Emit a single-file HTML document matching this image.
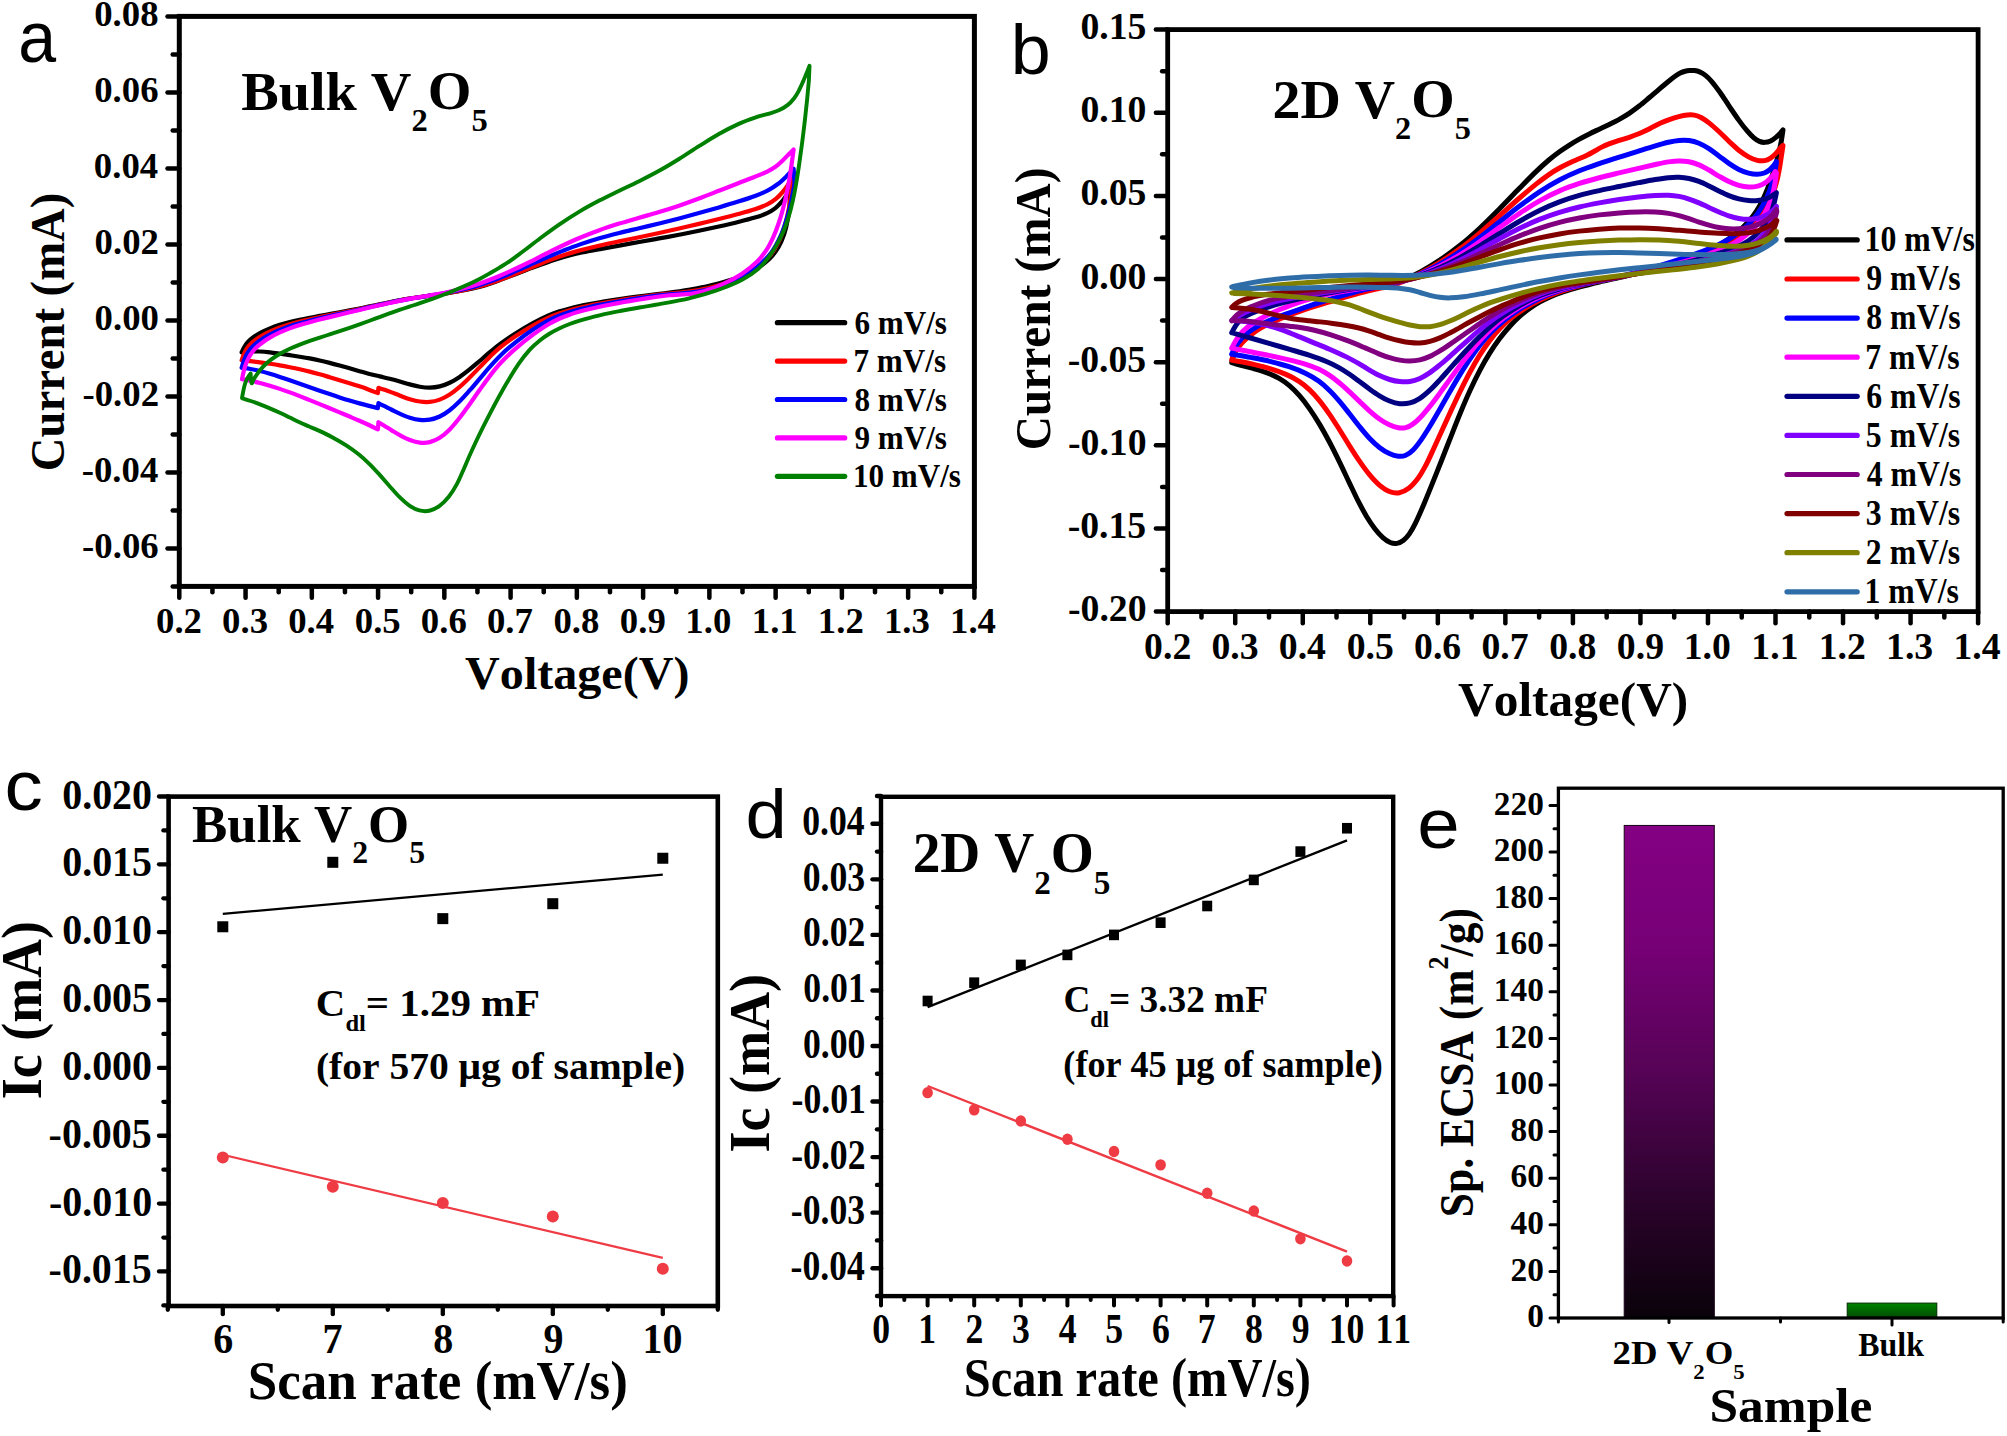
<!DOCTYPE html>
<html lang="en"><head><meta charset="utf-8"><title>Figure</title>
<style>html,body{margin:0;padding:0;background:#fff}svg{display:block}</style>
</head><body>
<svg width="2007" height="1436" viewBox="0 0 2007 1436" style="font-kerning:none">
<rect width="2007" height="1436" fill="#fff"/>
<g fill="none" stroke-linejoin="round" stroke-linecap="round">
<path d="M241.65 352.28C242.09 351.4 243.25 348.73 244.29 347.02C245.33 345.31 246.38 343.64 247.88 342.01C249.38 340.37 251.13 338.78 253.28 337.21C255.44 335.64 258.05 334.05 260.83 332.57C263.61 331.09 266.82 329.62 269.99 328.33C273.15 327.05 276.52 325.88 279.83 324.83C283.13 323.79 286.47 322.91 289.79 322.08C293.11 321.24 296.43 320.52 299.76 319.8C303.08 319.09 306.4 318.44 309.72 317.79C313.04 317.14 316.36 316.54 319.69 315.93C323.01 315.32 326.33 314.74 329.65 314.13C332.97 313.53 336.29 312.94 339.62 312.32C342.94 311.69 346.26 311.06 349.58 310.41C352.9 309.76 356.22 309.1 359.55 308.44C362.87 307.77 366.19 307.11 369.51 306.42C372.83 305.74 376.16 305.04 379.48 304.34C382.8 303.64 386.12 302.9 389.44 302.22C392.76 301.53 396.09 300.85 399.41 300.23C402.73 299.62 405.95 299.07 409.37 298.53C412.8 298 416.02 297.56 419.96 297.01C423.9 296.46 428.15 295.94 433.04 295.25C437.93 294.55 443.84 293.72 449.29 292.84C454.73 291.95 460.73 290.94 465.7 289.95C470.67 288.96 475.07 287.97 479.1 286.92C483.14 285.87 486.44 284.8 489.91 283.66C493.38 282.52 496.6 281.31 499.93 280.09C503.26 278.88 506.57 277.61 509.9 276.35C513.22 275.08 516.54 273.78 519.86 272.49C523.18 271.2 526.5 269.89 529.83 268.63C533.15 267.38 536.47 266.13 539.79 264.94C543.11 263.74 546.43 262.57 549.76 261.45C553.08 260.32 556.3 259.22 559.72 258.18C563.14 257.13 566.36 256.15 570.29 255.17C574.22 254.18 578.35 253.28 583.3 252.27C588.25 251.25 594.02 250.22 600.01 249.1C606 247.99 612.73 246.78 619.25 245.59C625.78 244.41 632.52 243.18 639.16 241.99C645.8 240.8 652.45 239.64 659.09 238.43C665.74 237.22 672.38 236.02 679.02 234.74C685.67 233.46 692.31 232.14 698.95 230.75C705.6 229.37 712.34 227.91 718.88 226.44C725.42 224.98 732.19 223.45 738.19 221.96C744.19 220.48 750.06 219.02 754.88 217.54C759.71 216.06 763.73 214.67 767.15 213.09C770.58 211.52 773.08 209.89 775.45 208.08C777.81 206.27 779.64 204.23 781.37 202.24C783.09 200.26 784.48 198.13 785.78 196.16C787.09 194.19 788.63 191.36 789.2 190.4L789.8 203.36C789.47 205.97 788.76 213.99 787.84 219.05C786.92 224.12 785.84 229.12 784.3 233.75C782.76 238.39 781 242.72 778.58 246.86C776.17 250.99 773.54 254.87 769.79 258.55C766.04 262.23 761.4 265.82 756.1 268.96C750.8 272.09 744.15 274.98 738 277.36C731.85 279.75 725.05 281.63 719.22 283.25C713.38 284.87 707.84 286.02 702.98 287.08C698.13 288.15 694.01 288.91 690.08 289.62C686.15 290.33 682.84 290.85 679.39 291.36C675.94 291.86 672.69 292.26 669.35 292.67C666.02 293.09 662.7 293.46 659.37 293.87C656.05 294.27 652.73 294.67 649.41 295.08C646.09 295.49 642.76 295.92 639.44 296.35C636.12 296.78 632.8 297.22 629.48 297.68C626.16 298.14 622.83 298.62 619.51 299.12C616.19 299.61 612.87 300.13 609.55 300.67C606.22 301.21 602.9 301.76 599.58 302.34C596.26 302.92 592.94 303.51 589.62 304.14C586.29 304.78 582.97 305.43 579.65 306.16C576.33 306.89 573.01 307.65 569.69 308.5C566.36 309.35 563.25 310.12 559.72 311.28C556.19 312.43 552.87 313.5 548.48 315.43C544.1 317.36 538.87 319.88 533.43 322.85C527.99 325.81 521.28 329.77 515.84 333.21C510.39 336.66 505.17 340.32 500.78 343.53C496.4 346.74 493.08 349.57 489.55 352.48C486.01 355.4 482.9 358.2 479.58 361.02C476.26 363.83 472.94 366.75 469.62 369.39C466.29 372.04 462.97 374.67 459.65 376.9C456.33 379.12 453.01 381.17 449.69 382.75C446.36 384.34 443.04 385.59 439.72 386.4C436.4 387.21 433.08 387.56 429.76 387.61C426.43 387.66 423.11 387.24 419.79 386.71C416.47 386.17 413.15 385.27 409.83 384.4C406.5 383.54 403.18 382.46 399.83 381.52C396.49 380.58 393.12 379.63 389.75 378.77C386.38 377.91 382.99 377.16 379.62 376.35C376.25 375.55 372.89 374.78 369.54 373.92C366.19 373.05 362.87 372.12 359.55 371.19C356.22 370.26 352.9 369.27 349.58 368.33C346.26 367.39 342.94 366.44 339.62 365.54C336.29 364.63 332.97 363.73 329.65 362.88C326.33 362.04 323.01 361.22 319.69 360.48C316.36 359.74 313.04 359.06 309.72 358.43C306.4 357.8 303.08 357.26 299.76 356.72C296.43 356.19 293.11 355.71 289.79 355.2C286.47 354.7 283.15 354.18 279.83 353.7C276.5 353.22 273.16 352.69 269.86 352.33C266.56 351.96 263.22 351.62 260 351.49C256.78 351.36 253.62 351.4 250.56 351.53C247.51 351.67 243.14 352.16 241.65 352.28" stroke="#000000" stroke-width="4.2"/>
<path d="M241.65 360.25C242.01 359.25 242.98 356.14 243.81 354.24C244.64 352.35 245.52 350.55 246.62 348.89C247.71 347.23 248.96 345.75 250.4 344.28C251.85 342.8 253.39 341.47 255.29 340.04C257.18 338.62 259.28 337.19 261.76 335.75C264.24 334.3 267.16 332.75 270.17 331.36C273.18 329.96 276.56 328.57 279.83 327.37C283.1 326.17 286.47 325.12 289.79 324.15C293.11 323.18 296.43 322.35 299.76 321.54C303.08 320.72 306.4 319.99 309.72 319.26C313.04 318.53 316.36 317.84 319.69 317.15C323.01 316.46 326.33 315.79 329.65 315.12C332.97 314.44 336.29 313.78 339.62 313.11C342.94 312.43 346.26 311.75 349.58 311.05C352.9 310.35 356.22 309.64 359.55 308.93C362.87 308.21 366.19 307.49 369.51 306.77C372.83 306.05 376.16 305.33 379.48 304.62C382.8 303.9 386.12 303.17 389.44 302.48C392.76 301.79 396.09 301.1 399.41 300.46C402.73 299.83 405.95 299.25 409.37 298.69C412.8 298.13 416.02 297.67 419.96 297.09C423.9 296.52 428.15 295.98 433.04 295.25C437.93 294.52 443.84 293.65 449.29 292.72C454.73 291.79 460.73 290.71 465.7 289.68C470.67 288.66 475.07 287.63 479.1 286.58C483.14 285.52 486.44 284.46 489.91 283.33C493.38 282.2 496.6 281 499.93 279.78C503.26 278.56 506.57 277.3 509.9 276.02C513.22 274.73 516.54 273.42 519.86 272.1C523.18 270.77 526.5 269.42 529.83 268.07C533.15 266.73 536.47 265.36 539.79 264.03C543.11 262.7 546.43 261.35 549.76 260.09C553.08 258.83 556.3 257.62 559.72 256.46C563.14 255.29 566.36 254.26 570.29 253.11C574.22 251.95 578.35 250.81 583.3 249.54C588.25 248.26 594.02 246.84 600.01 245.47C606 244.09 612.73 242.67 619.25 241.29C625.78 239.92 632.52 238.61 639.16 237.23C645.8 235.85 652.45 234.46 659.09 233.01C665.74 231.56 672.38 230.05 679.02 228.53C685.67 227 692.31 225.45 698.95 223.87C705.6 222.28 712.34 220.65 718.88 219.01C725.42 217.37 732.19 215.66 738.19 214.03C744.19 212.39 750.05 210.81 754.88 209.22C759.72 207.62 763.72 206.16 767.21 204.45C770.71 202.73 773.3 200.94 775.84 198.91C778.39 196.88 780.51 194.54 782.5 192.25C784.48 189.97 786.2 187.5 787.75 185.2C789.3 182.9 791.12 179.57 791.79 178.45L791.39 191.4C790.94 194.36 789.84 203.36 788.71 209.15C787.59 214.94 786.33 220.7 784.65 226.15C782.97 231.6 781.17 236.85 778.65 241.85C776.12 246.85 773.44 251.64 769.52 256.15C765.59 260.65 760.59 265.08 755.09 268.87C749.59 272.66 742.65 276.14 736.51 278.9C730.36 281.65 723.85 283.69 718.22 285.4C712.59 287.12 707.42 288.19 702.73 289.18C698.04 290.17 693.97 290.78 690.08 291.34C686.19 291.89 682.84 292.16 679.39 292.52C675.94 292.88 672.69 293.12 669.35 293.47C666.02 293.82 662.7 294.2 659.37 294.59C656.05 294.99 652.73 295.42 649.41 295.86C646.09 296.29 642.76 296.74 639.44 297.21C636.12 297.68 632.8 298.16 629.48 298.65C626.16 299.15 622.83 299.67 619.51 300.21C616.19 300.74 612.87 301.3 609.55 301.87C606.22 302.45 602.9 303.05 599.58 303.67C596.26 304.29 592.94 304.92 589.62 305.61C586.29 306.29 582.97 306.98 579.65 307.76C576.33 308.54 573.01 309.35 569.69 310.27C566.36 311.19 563.25 312.05 559.72 313.29C556.19 314.53 552.87 315.71 548.48 317.72C544.1 319.74 538.87 322.32 533.43 325.36C527.99 328.41 521.28 332.39 515.84 335.99C510.39 339.59 505.17 343.43 500.78 346.97C496.4 350.5 493.08 353.79 489.55 357.19C486.01 360.59 482.9 363.98 479.58 367.37C476.26 370.76 472.94 374.27 469.62 377.52C466.29 380.77 462.97 384.03 459.65 386.86C456.33 389.69 453.01 392.37 449.69 394.49C446.36 396.62 443.04 398.39 439.72 399.62C436.4 400.85 433.08 401.57 429.76 401.89C426.43 402.2 423.11 401.98 419.79 401.52C416.47 401.06 413.1 400.12 409.83 399.15C406.56 398.17 403.2 396.83 400.17 395.7C397.15 394.56 394.26 393.33 391.67 392.34C389.09 391.36 386.87 390.55 384.66 389.79C382.46 389.03 379.47 388.13 378.44 387.8L377.88 393.14C376.39 392.56 371.99 390.81 368.91 389.68C365.84 388.55 362.67 387.43 359.45 386.35C356.22 385.27 352.89 384.23 349.58 383.21C346.28 382.18 342.94 381.19 339.62 380.18C336.29 379.18 332.97 378.18 329.65 377.19C326.33 376.21 323.01 375.2 319.69 374.27C316.36 373.33 313.04 372.42 309.72 371.59C306.4 370.76 303.08 370 299.76 369.27C296.43 368.53 293.11 367.85 289.79 367.19C286.47 366.53 283.15 365.89 279.83 365.31C276.5 364.73 273.16 364.21 269.86 363.71C266.56 363.22 263.22 362.76 260 362.34C256.78 361.92 253.62 361.54 250.56 361.19C247.51 360.84 243.14 360.41 241.65 360.25" stroke="#ff0000" stroke-width="4.2"/>
<path d="M241.65 367.73C242.01 366.59 242.98 363.08 243.81 360.88C244.64 358.68 245.52 356.51 246.62 354.52C247.71 352.54 248.96 350.72 250.4 348.98C251.85 347.24 253.39 345.69 255.29 344.06C257.18 342.44 259.28 340.85 261.76 339.23C264.24 337.61 267.16 335.9 270.17 334.34C273.18 332.78 276.56 331.23 279.83 329.87C283.1 328.52 286.47 327.32 289.79 326.22C293.11 325.11 296.43 324.17 299.76 323.25C303.08 322.33 306.4 321.51 309.72 320.69C313.04 319.88 316.36 319.11 319.69 318.35C323.01 317.59 326.33 316.85 329.65 316.11C332.97 315.37 336.29 314.65 339.62 313.91C342.94 313.17 346.26 312.43 349.58 311.69C352.9 310.94 356.22 310.18 359.55 309.43C362.87 308.68 366.19 307.92 369.51 307.17C372.83 306.42 376.16 305.67 379.48 304.92C382.8 304.18 386.12 303.43 389.44 302.71C392.76 302 396.09 301.29 399.41 300.64C402.73 299.99 405.95 299.4 409.37 298.81C412.8 298.23 416.02 297.76 419.96 297.14C423.9 296.53 428.15 295.95 433.04 295.14C437.93 294.32 443.84 293.33 449.29 292.27C454.73 291.21 460.73 289.94 465.7 288.75C470.67 287.57 475.07 286.36 479.1 285.17C483.14 283.97 486.44 282.81 489.91 281.59C493.38 280.36 496.6 279.1 499.93 277.79C503.26 276.48 506.57 275.12 509.9 273.72C513.22 272.32 516.54 270.86 519.86 269.4C523.18 267.94 526.5 266.43 529.83 264.95C533.15 263.46 536.37 262 539.79 260.49C543.21 258.99 546.43 257.56 550.36 255.91C554.29 254.26 558.42 252.51 563.37 250.59C568.32 248.67 574.09 246.43 580.08 244.37C586.07 242.31 592.79 240.12 599.32 238.21C605.84 236.31 612.59 234.6 619.23 232.93C625.87 231.27 632.52 229.81 639.16 228.24C645.81 226.66 652.45 225.12 659.09 223.48C665.74 221.84 672.38 220.16 679.02 218.42C685.67 216.69 692.31 214.91 698.95 213.08C705.6 211.25 712.34 209.35 718.88 207.44C725.42 205.53 732.17 203.53 738.19 201.62C744.21 199.71 750.05 197.85 755.01 195.98C759.97 194.1 764.15 192.36 767.96 190.37C771.77 188.38 774.83 186.31 777.86 184.02C780.9 181.73 783.52 179.19 786.15 176.64C788.77 174.1 792.38 170.07 793.62 168.76L794.58 183.43C794.02 186.41 792.52 195.39 791.22 201.3C789.91 207.22 788.53 213.15 786.77 218.93C785.01 224.71 783.2 230.45 780.65 235.99C778.11 241.54 775.46 247.04 771.51 252.22C767.56 257.41 762.57 262.64 756.96 267.1C751.36 271.56 744.23 275.76 737.88 279.01C731.52 282.25 724.68 284.64 718.84 286.57C713.01 288.51 707.65 289.61 702.86 290.61C698.06 291.61 693.99 292.12 690.08 292.6C686.17 293.08 682.84 293.22 679.39 293.49C675.94 293.77 672.69 293.94 669.35 294.26C666.02 294.57 662.7 294.96 659.37 295.37C656.05 295.77 652.73 296.23 649.41 296.69C646.09 297.14 642.76 297.62 639.44 298.11C636.12 298.61 632.8 299.12 629.48 299.65C626.16 300.18 622.83 300.73 619.51 301.3C616.19 301.86 612.87 302.44 609.55 303.04C606.22 303.64 602.9 304.25 599.58 304.9C596.26 305.55 592.94 306.22 589.62 306.95C586.29 307.68 582.97 308.44 579.65 309.29C576.33 310.14 573.01 311.03 569.69 312.05C566.36 313.06 563.25 313.98 559.72 315.36C556.19 316.75 552.87 318.05 548.48 320.38C544.1 322.72 538.87 325.74 533.43 329.35C527.99 332.97 521.28 337.76 515.84 342.06C510.39 346.36 505.17 350.98 500.78 355.16C496.4 359.33 493.08 363.17 489.55 367.12C486.01 371.07 482.9 374.94 479.58 378.83C476.26 382.72 472.94 386.73 469.62 390.48C466.29 394.22 462.97 397.99 459.65 401.28C456.33 404.58 453.01 407.71 449.69 410.25C446.36 412.79 443.04 414.94 439.72 416.51C436.4 418.08 433.08 419.12 429.76 419.69C426.43 420.26 423.11 420.26 419.79 419.94C416.47 419.61 413.1 418.73 409.83 417.72C406.56 416.72 403.2 415.22 400.17 413.89C397.15 412.57 394.26 411.03 391.67 409.75C389.09 408.48 386.87 407.32 384.66 406.23C382.46 405.15 379.47 403.74 378.44 403.24L377.88 408.09C376.39 407.72 371.99 406.66 368.91 405.88C365.84 405.09 362.67 404.27 359.45 403.38C356.22 402.5 352.89 401.54 349.58 400.55C346.28 399.56 342.94 398.51 339.62 397.44C336.29 396.36 332.97 395.24 329.65 394.1C326.33 392.97 323.01 391.81 319.69 390.65C316.36 389.49 313.04 388.32 309.72 387.16C306.4 386 303.08 384.83 299.76 383.67C296.43 382.51 293.11 381.35 289.79 380.22C286.47 379.08 283.15 377.96 279.83 376.88C276.5 375.81 273.16 374.75 269.86 373.77C266.56 372.79 263.22 371.82 260 371.03C256.78 370.23 253.62 369.55 250.56 369C247.51 368.45 243.14 367.94 241.65 367.73" stroke="#0000ff" stroke-width="4.2"/>
<path d="M242.01 379.19C242.28 377.95 243.03 374.2 243.64 371.78C244.25 369.35 244.88 366.92 245.68 364.64C246.49 362.37 247.42 360.14 248.48 358.11C249.53 356.07 250.7 354.2 252 352.44C253.3 350.68 254.59 349.17 256.28 347.55C257.97 345.92 259.81 344.38 262.14 342.69C264.46 341.01 267.29 339.14 270.23 337.44C273.18 335.74 276.57 333.97 279.83 332.46C283.09 330.96 286.47 329.62 289.79 328.39C293.11 327.16 296.43 326.11 299.76 325.08C303.08 324.05 306.4 323.12 309.72 322.2C313.04 321.28 316.36 320.43 319.69 319.58C323.01 318.74 326.33 317.93 329.65 317.12C332.97 316.31 336.29 315.51 339.62 314.71C342.94 313.91 346.26 313.12 349.58 312.32C352.9 311.53 356.22 310.73 359.55 309.94C362.87 309.15 366.19 308.36 369.51 307.58C372.83 306.8 376.16 306.02 379.48 305.25C382.8 304.49 386.12 303.72 389.44 302.98C392.76 302.24 396.09 301.51 399.41 300.83C402.73 300.15 405.95 299.53 409.37 298.92C412.8 298.3 416.02 297.81 419.96 297.14C423.9 296.48 428.15 295.84 433.04 294.93C437.93 294.02 443.84 292.9 449.29 291.7C454.73 290.51 460.73 289.07 465.7 287.75C470.67 286.42 475.07 285.07 479.1 283.75C483.14 282.43 486.44 281.16 489.91 279.82C493.38 278.48 496.6 277.13 499.93 275.72C503.26 274.31 506.57 272.86 509.9 271.36C513.22 269.87 516.54 268.33 519.86 266.75C523.18 265.18 526.51 263.56 529.83 261.93C533.14 260.29 536.36 258.67 539.77 256.94C543.18 255.22 546.38 253.53 550.29 251.58C554.21 249.63 558.31 247.52 563.27 245.22C568.22 242.92 574.01 240.27 580.01 237.78C586.02 235.28 592.77 232.62 599.3 230.26C605.84 227.89 612.59 225.69 619.23 223.6C625.88 221.52 632.52 219.69 639.16 217.76C645.81 215.83 652.45 214.03 659.09 212.02C665.74 210.01 672.38 207.94 679.02 205.69C685.67 203.44 692.31 201.02 698.95 198.53C705.6 196.05 712.34 193.34 718.88 190.78C725.42 188.23 732.19 185.54 738.19 183.2C744.19 180.86 750.05 178.69 754.88 176.74C759.72 174.8 763.73 173.26 767.21 171.55C770.7 169.84 773.27 168.28 775.81 166.47C778.35 164.65 780.4 162.61 782.47 160.66C784.55 158.71 786.41 156.63 788.27 154.76C790.12 152.89 792.73 150.32 793.62 149.43L792.23 159.79C791.95 161.8 791.2 167.63 790.55 171.87C789.89 176.12 789.17 180.73 788.32 185.26C787.47 189.8 786.49 194.6 785.45 199.09C784.41 203.59 783.29 207.96 782.08 212.23C780.86 216.51 779.6 220.61 778.14 224.75C776.68 228.89 775.18 232.96 773.29 237.06C771.41 241.16 769.52 245.25 766.84 249.34C764.16 253.43 761.35 257.53 757.22 261.59C753.1 265.65 747.91 269.9 742.1 273.69C736.3 277.49 728.76 281.45 722.38 284.38C716 287.31 709.2 289.67 703.82 291.26C698.44 292.86 694.15 293.39 690.08 293.95C686.01 294.5 682.84 294.39 679.39 294.61C675.94 294.83 672.69 294.97 669.35 295.28C666.02 295.59 662.7 296.02 659.37 296.46C656.05 296.9 652.73 297.41 649.41 297.91C646.09 298.41 642.76 298.92 639.44 299.45C636.12 299.98 632.8 300.53 629.48 301.1C626.16 301.66 622.83 302.24 619.51 302.84C616.19 303.44 612.87 304.05 609.55 304.7C606.22 305.34 602.9 306 599.58 306.71C596.26 307.42 592.94 308.15 589.62 308.95C586.29 309.75 582.97 310.59 579.65 311.53C576.33 312.48 573.01 313.48 569.69 314.64C566.36 315.8 563.25 316.88 559.72 318.49C556.19 320.1 552.87 321.66 548.48 324.31C544.1 326.95 538.87 330.36 533.43 334.37C527.99 338.37 521.28 343.61 515.84 348.35C510.39 353.09 505.17 358.14 500.78 362.81C496.4 367.47 493.08 371.8 489.55 376.34C486.01 380.88 482.9 385.41 479.58 390.04C476.26 394.67 472.94 399.53 469.62 404.15C466.29 408.76 462.97 413.51 459.65 417.72C456.33 421.93 453.01 426.06 449.69 429.4C446.36 432.74 443.04 435.66 439.72 437.78C436.4 439.9 433.08 441.31 429.76 442.11C426.43 442.91 423.11 442.94 419.79 442.57C416.47 442.21 413.1 441.14 409.83 439.93C406.56 438.72 403.2 436.92 400.17 435.32C397.15 433.72 394.26 431.89 391.67 430.34C389.09 428.78 386.87 427.37 384.66 426.01C382.46 424.65 379.47 422.82 378.44 422.18L377.88 429.31C376.39 428.59 371.99 426.42 368.91 424.98C365.84 423.55 362.67 422.12 359.45 420.72C356.22 419.31 352.89 417.94 349.58 416.56C346.28 415.17 342.94 413.8 339.62 412.42C336.29 411.03 332.97 409.62 329.65 408.24C326.33 406.86 323.01 405.49 319.69 404.13C316.36 402.78 313.04 401.44 309.72 400.11C306.4 398.79 303.08 397.45 299.76 396.16C296.43 394.87 293.11 393.57 289.79 392.36C286.47 391.15 283.15 389.98 279.83 388.87C276.5 387.77 273.16 386.71 269.86 385.73C266.56 384.74 263.22 383.78 260.02 382.96C256.83 382.13 253.7 381.4 250.7 380.78C247.7 380.15 243.46 379.45 242.01 379.19" stroke="#ff00ff" stroke-width="4.2"/>
<path d="M250.63 373.51C250.78 375.12 251.01 382.22 251.52 383.17C252.04 384.13 252.89 380.61 253.74 379.22C254.58 377.83 255.47 376.4 256.57 374.83C257.67 373.26 258.92 371.53 260.36 369.81C261.81 368.1 263.36 366.3 265.25 364.52C267.15 362.75 269.25 360.95 271.73 359.16C274.21 357.37 277.13 355.51 280.14 353.78C283.15 352.05 286.52 350.33 289.79 348.79C293.06 347.26 296.43 345.88 299.76 344.58C303.08 343.27 306.4 342.12 309.72 340.96C313.04 339.8 316.36 338.72 319.69 337.63C323.01 336.54 326.33 335.49 329.65 334.42C332.97 333.35 336.29 332.28 339.62 331.19C342.94 330.09 346.26 328.98 349.58 327.84C352.9 326.7 356.22 325.53 359.55 324.35C362.87 323.17 366.19 321.95 369.51 320.74C372.83 319.52 376.16 318.28 379.48 317.06C382.8 315.85 386.12 314.63 389.44 313.45C392.76 312.27 396.09 311.1 399.41 309.96C402.73 308.82 405.95 307.76 409.37 306.63C412.8 305.5 416.02 304.51 419.96 303.19C423.9 301.87 428.15 300.47 433.04 298.69C437.93 296.9 443.84 294.69 449.29 292.51C454.73 290.33 460.73 287.82 465.7 285.59C470.67 283.37 475.07 281.21 479.1 279.16C483.14 277.1 486.44 275.22 489.91 273.26C493.38 271.29 496.5 269.49 499.93 267.38C503.36 265.26 506.57 263.31 510.5 260.59C514.43 257.87 518.56 254.78 523.51 251.05C528.46 247.32 534.23 242.67 540.22 238.21C546.21 233.75 552.93 228.73 559.46 224.29C565.98 219.84 572.73 215.51 579.37 211.55C586.01 207.59 592.66 203.99 599.3 200.52C605.95 197.06 612.59 193.96 619.23 190.74C625.88 187.53 632.52 184.54 639.16 181.22C645.81 177.89 652.45 174.52 659.09 170.81C665.74 167.11 672.38 163.08 679.02 158.98C685.67 154.88 692.31 150.38 698.95 146.21C705.6 142.05 712.34 137.68 718.88 134.01C725.42 130.33 732.16 126.87 738.19 124.14C744.22 121.42 750.03 119.38 755.04 117.66C760.05 115.94 764.3 115.05 768.26 113.81C772.22 112.58 775.6 111.71 778.81 110.26C782.02 108.81 784.98 107.11 787.54 105.11C790.11 103.11 792.26 100.73 794.18 98.25C796.1 95.78 797.56 93.03 799.04 90.25C800.52 87.48 801.8 84.43 803.05 81.6C804.3 78.76 805.46 75.88 806.54 73.25C807.62 70.62 809.03 67.07 809.53 65.84L808.93 79.79C808.62 83.15 807.75 93.1 807.06 99.97C806.37 106.84 805.63 113.86 804.81 121.02C803.98 128.18 803.04 135.72 802.1 142.94C801.16 150.17 800.16 157.56 799.16 164.37C798.16 171.18 797.18 177.7 796.11 183.8C795.04 189.91 793.97 195.56 792.75 200.99C791.52 206.42 790.25 211.49 788.76 216.38C787.28 221.26 785.74 225.78 783.84 230.33C781.94 234.87 779.85 239.24 777.36 243.65C774.88 248.07 772.17 252.59 768.96 256.8C765.74 261.01 762.47 265.13 758.06 268.91C753.65 272.7 748.4 276.26 742.49 279.48C736.57 282.71 728.99 285.78 722.56 288.26C716.12 290.75 709.27 292.77 703.85 294.4C698.44 296.03 694.16 297.02 690.08 298.02C686 299.03 682.84 299.71 679.39 300.44C675.94 301.17 672.69 301.8 669.35 302.41C666.02 303.03 662.7 303.57 659.37 304.14C656.05 304.71 652.73 305.25 649.41 305.82C646.09 306.38 642.76 306.95 639.44 307.53C636.12 308.11 632.8 308.68 629.48 309.28C626.16 309.88 622.83 310.47 619.51 311.11C616.19 311.75 612.87 312.41 609.55 313.11C606.22 313.81 602.9 314.54 599.58 315.32C596.26 316.09 592.94 316.88 589.62 317.76C586.29 318.65 582.97 319.56 579.65 320.61C576.33 321.66 573.01 322.77 569.69 324.04C566.36 325.31 563.04 326.65 559.72 328.23C556.4 329.8 553.08 331.46 549.76 333.49C546.43 335.52 543.11 337.72 539.79 340.4C536.47 343.09 533.36 345.67 529.83 349.59C526.29 353.51 522.97 357.4 518.59 363.9C514.21 370.4 508.96 379.02 503.54 388.57C498.12 398.12 491.32 410.94 486.07 421.22C480.81 431.49 475.76 442.1 471.98 450.23C468.2 458.35 465.91 464.27 463.37 469.96C460.83 475.66 459.16 479.93 456.72 484.41C454.29 488.88 451.67 493.19 448.76 496.81C445.85 500.43 442.51 503.81 439.27 506.13C436.02 508.45 432.62 510.01 429.3 510.73C425.98 511.45 422.66 511.28 419.34 510.43C416.02 509.58 412.69 507.86 409.37 505.62C406.05 503.38 402.73 500.24 399.41 496.98C396.09 493.71 392.76 489.76 389.44 486.04C386.12 482.32 382.8 478.31 379.48 474.64C376.16 470.98 372.94 467.41 369.51 464.06C366.09 460.7 362.81 457.63 358.92 454.53C355.04 451.42 350.74 448.36 346.22 445.43C341.69 442.51 336.34 439.45 331.77 436.98C327.2 434.51 322.65 432.39 318.81 430.61C314.97 428.84 311.94 427.72 308.72 426.33C305.51 424.94 302.66 423.73 299.51 422.27C296.35 420.82 293.07 419.17 289.79 417.58C286.51 416 283.15 414.33 279.83 412.79C276.5 411.25 273.16 409.74 269.86 408.34C266.56 406.93 263.22 405.6 260.02 404.38C256.83 403.16 253.7 402.06 250.7 401.02C247.7 399.97 243.46 398.6 242.01 398.12L242.01 398.12C242.16 397.28 242.56 394.83 242.89 393.08C243.22 391.33 243.56 389.45 244.01 387.63C244.47 385.81 244.97 383.86 245.61 382.16C246.25 380.47 247.02 378.87 247.86 377.43C248.69 375.99 250.17 374.16 250.63 373.51" stroke="#008000" stroke-width="3.9"/>
</g>
<rect x="179.3" y="16.4" width="795.1" height="570" fill="none" stroke="#000" stroke-width="5"/>
<line x1="179.3" y1="586.4" x2="179.3" y2="597.8" stroke="#000" stroke-width="4.5" stroke-linecap="round"/>
<line x1="245.56" y1="586.4" x2="245.56" y2="597.8" stroke="#000" stroke-width="4.5" stroke-linecap="round"/>
<line x1="311.82" y1="586.4" x2="311.82" y2="597.8" stroke="#000" stroke-width="4.5" stroke-linecap="round"/>
<line x1="378.07" y1="586.4" x2="378.07" y2="597.8" stroke="#000" stroke-width="4.5" stroke-linecap="round"/>
<line x1="444.33" y1="586.4" x2="444.33" y2="597.8" stroke="#000" stroke-width="4.5" stroke-linecap="round"/>
<line x1="510.59" y1="586.4" x2="510.59" y2="597.8" stroke="#000" stroke-width="4.5" stroke-linecap="round"/>
<line x1="576.85" y1="586.4" x2="576.85" y2="597.8" stroke="#000" stroke-width="4.5" stroke-linecap="round"/>
<line x1="643.11" y1="586.4" x2="643.11" y2="597.8" stroke="#000" stroke-width="4.5" stroke-linecap="round"/>
<line x1="709.37" y1="586.4" x2="709.37" y2="597.8" stroke="#000" stroke-width="4.5" stroke-linecap="round"/>
<line x1="775.62" y1="586.4" x2="775.62" y2="597.8" stroke="#000" stroke-width="4.5" stroke-linecap="round"/>
<line x1="841.88" y1="586.4" x2="841.88" y2="597.8" stroke="#000" stroke-width="4.5" stroke-linecap="round"/>
<line x1="908.14" y1="586.4" x2="908.14" y2="597.8" stroke="#000" stroke-width="4.5" stroke-linecap="round"/>
<line x1="974.4" y1="586.4" x2="974.4" y2="597.8" stroke="#000" stroke-width="4.5" stroke-linecap="round"/>
<line x1="212.43" y1="586.4" x2="212.43" y2="592.2" stroke="#000" stroke-width="4.5" stroke-linecap="round"/>
<line x1="278.69" y1="586.4" x2="278.69" y2="592.2" stroke="#000" stroke-width="4.5" stroke-linecap="round"/>
<line x1="344.95" y1="586.4" x2="344.95" y2="592.2" stroke="#000" stroke-width="4.5" stroke-linecap="round"/>
<line x1="411.2" y1="586.4" x2="411.2" y2="592.2" stroke="#000" stroke-width="4.5" stroke-linecap="round"/>
<line x1="477.46" y1="586.4" x2="477.46" y2="592.2" stroke="#000" stroke-width="4.5" stroke-linecap="round"/>
<line x1="543.72" y1="586.4" x2="543.72" y2="592.2" stroke="#000" stroke-width="4.5" stroke-linecap="round"/>
<line x1="609.98" y1="586.4" x2="609.98" y2="592.2" stroke="#000" stroke-width="4.5" stroke-linecap="round"/>
<line x1="676.24" y1="586.4" x2="676.24" y2="592.2" stroke="#000" stroke-width="4.5" stroke-linecap="round"/>
<line x1="742.5" y1="586.4" x2="742.5" y2="592.2" stroke="#000" stroke-width="4.5" stroke-linecap="round"/>
<line x1="808.75" y1="586.4" x2="808.75" y2="592.2" stroke="#000" stroke-width="4.5" stroke-linecap="round"/>
<line x1="875.01" y1="586.4" x2="875.01" y2="592.2" stroke="#000" stroke-width="4.5" stroke-linecap="round"/>
<line x1="941.27" y1="586.4" x2="941.27" y2="592.2" stroke="#000" stroke-width="4.5" stroke-linecap="round"/>
<line x1="179.3" y1="548.4" x2="167.5" y2="548.4" stroke="#000" stroke-width="4.5" stroke-linecap="round"/>
<line x1="179.3" y1="472.4" x2="167.5" y2="472.4" stroke="#000" stroke-width="4.5" stroke-linecap="round"/>
<line x1="179.3" y1="396.4" x2="167.5" y2="396.4" stroke="#000" stroke-width="4.5" stroke-linecap="round"/>
<line x1="179.3" y1="320.4" x2="167.5" y2="320.4" stroke="#000" stroke-width="4.5" stroke-linecap="round"/>
<line x1="179.3" y1="244.4" x2="167.5" y2="244.4" stroke="#000" stroke-width="4.5" stroke-linecap="round"/>
<line x1="179.3" y1="168.4" x2="167.5" y2="168.4" stroke="#000" stroke-width="4.5" stroke-linecap="round"/>
<line x1="179.3" y1="92.4" x2="167.5" y2="92.4" stroke="#000" stroke-width="4.5" stroke-linecap="round"/>
<line x1="179.3" y1="16.4" x2="167.5" y2="16.4" stroke="#000" stroke-width="4.5" stroke-linecap="round"/>
<line x1="179.3" y1="586.4" x2="172.7" y2="586.4" stroke="#000" stroke-width="4.5" stroke-linecap="round"/>
<line x1="179.3" y1="510.4" x2="172.7" y2="510.4" stroke="#000" stroke-width="4.5" stroke-linecap="round"/>
<line x1="179.3" y1="434.4" x2="172.7" y2="434.4" stroke="#000" stroke-width="4.5" stroke-linecap="round"/>
<line x1="179.3" y1="358.4" x2="172.7" y2="358.4" stroke="#000" stroke-width="4.5" stroke-linecap="round"/>
<line x1="179.3" y1="282.4" x2="172.7" y2="282.4" stroke="#000" stroke-width="4.5" stroke-linecap="round"/>
<line x1="179.3" y1="206.4" x2="172.7" y2="206.4" stroke="#000" stroke-width="4.5" stroke-linecap="round"/>
<line x1="179.3" y1="130.4" x2="172.7" y2="130.4" stroke="#000" stroke-width="4.5" stroke-linecap="round"/>
<line x1="179.3" y1="54.4" x2="172.7" y2="54.4" stroke="#000" stroke-width="4.5" stroke-linecap="round"/>
<text transform="translate(82.09 557.82) scale(1.0127 1)" font-family='"Liberation Serif", "DejaVu Serif", serif' font-weight="bold" font-size="36.32" text-anchor="start" >-0.06</text>
<text transform="translate(81.72 481.82) scale(1.0127 1)" font-family='"Liberation Serif", "DejaVu Serif", serif' font-weight="bold" font-size="36.32" text-anchor="start" >-0.04</text>
<text transform="translate(82.46 405.82) scale(1.0127 1)" font-family='"Liberation Serif", "DejaVu Serif", serif' font-weight="bold" font-size="36.32" text-anchor="start" >-0.02</text>
<text transform="translate(94.6 329.82) scale(1.0127 1)" font-family='"Liberation Serif", "DejaVu Serif", serif' font-weight="bold" font-size="36.32" text-anchor="start" >0.00</text>
<text transform="translate(94.6 253.82) scale(1.0127 1)" font-family='"Liberation Serif", "DejaVu Serif", serif' font-weight="bold" font-size="36.32" text-anchor="start" >0.02</text>
<text transform="translate(93.86 177.82) scale(1.0127 1)" font-family='"Liberation Serif", "DejaVu Serif", serif' font-weight="bold" font-size="36.32" text-anchor="start" >0.04</text>
<text transform="translate(94.23 101.82) scale(1.0127 1)" font-family='"Liberation Serif", "DejaVu Serif", serif' font-weight="bold" font-size="36.32" text-anchor="start" >0.06</text>
<text transform="translate(94.23 25.82) scale(1.0127 1)" font-family='"Liberation Serif", "DejaVu Serif", serif' font-weight="bold" font-size="36.32" text-anchor="start" >0.08</text>
<text transform="translate(156.01 633.1) scale(1.0127 1)" font-family='"Liberation Serif", "DejaVu Serif", serif' font-weight="bold" font-size="36.32" text-anchor="start" >0.2</text>
<text transform="translate(222.08 633.1) scale(1.0127 1)" font-family='"Liberation Serif", "DejaVu Serif", serif' font-weight="bold" font-size="36.32" text-anchor="start" >0.3</text>
<text transform="translate(288.16 633.1) scale(1.0127 1)" font-family='"Liberation Serif", "DejaVu Serif", serif' font-weight="bold" font-size="36.32" text-anchor="start" >0.4</text>
<text transform="translate(354.78 633.1) scale(1.0127 1)" font-family='"Liberation Serif", "DejaVu Serif", serif' font-weight="bold" font-size="36.32" text-anchor="start" >0.5</text>
<text transform="translate(420.86 633.1) scale(1.0127 1)" font-family='"Liberation Serif", "DejaVu Serif", serif' font-weight="bold" font-size="36.32" text-anchor="start" >0.6</text>
<text transform="translate(486.93 633.1) scale(1.0127 1)" font-family='"Liberation Serif", "DejaVu Serif", serif' font-weight="bold" font-size="36.32" text-anchor="start" >0.7</text>
<text transform="translate(553.38 633.1) scale(1.0127 1)" font-family='"Liberation Serif", "DejaVu Serif", serif' font-weight="bold" font-size="36.32" text-anchor="start" >0.8</text>
<text transform="translate(619.82 633.1) scale(1.0127 1)" font-family='"Liberation Serif", "DejaVu Serif", serif' font-weight="bold" font-size="36.32" text-anchor="start" >0.9</text>
<text transform="translate(685.34 633.1) scale(1.0127 1)" font-family='"Liberation Serif", "DejaVu Serif", serif' font-weight="bold" font-size="36.32" text-anchor="start" >1.0</text>
<text transform="translate(751.78 633.1) scale(1.0127 1)" font-family='"Liberation Serif", "DejaVu Serif", serif' font-weight="bold" font-size="36.32" text-anchor="start" >1.1</text>
<text transform="translate(817.86 633.1) scale(1.0127 1)" font-family='"Liberation Serif", "DejaVu Serif", serif' font-weight="bold" font-size="36.32" text-anchor="start" >1.2</text>
<text transform="translate(883.93 633.1) scale(1.0127 1)" font-family='"Liberation Serif", "DejaVu Serif", serif' font-weight="bold" font-size="36.32" text-anchor="start" >1.3</text>
<text transform="translate(950.01 633.1) scale(1.0127 1)" font-family='"Liberation Serif", "DejaVu Serif", serif' font-weight="bold" font-size="36.32" text-anchor="start" >1.4</text>
<text transform="translate(465.12 689.2) scale(1.0200 1)" font-family='"Liberation Serif", "DejaVu Serif", serif' font-weight="bold" font-size="47.15" text-anchor="start" >Voltage(V)</text>
<text transform="translate(63.9 471.13) rotate(-90) scale(0.9469 1)" font-family='"Liberation Serif", "DejaVu Serif", serif' font-weight="bold" font-size="49.23" text-anchor="start" >Current (mA)</text>
<text transform="translate(241.28 109.5) scale(1.0209 1)" font-family='"Liberation Serif", "DejaVu Serif", serif' font-weight="bold" font-size="55.03" text-anchor="start" >Bulk V<tspan font-size="58%" dy="0.67em">2</tspan><tspan dy="-0.389em">O</tspan><tspan font-size="58%" dy="0.67em">5</tspan></text>
<line x1="777.4" y1="322.7" x2="844.7" y2="322.7" stroke="#000000" stroke-width="5.2" stroke-linecap="round"/>
<text transform="translate(854.47 333.8) scale(0.9091 1)" font-family='"Liberation Serif", "DejaVu Serif", serif' font-weight="bold" font-size="34.24" text-anchor="start" >6 mV/s</text>
<line x1="777.4" y1="361.1" x2="844.7" y2="361.1" stroke="#ff0000" stroke-width="5.2" stroke-linecap="round"/>
<text transform="translate(853.53 372.2) scale(0.9091 1)" font-family='"Liberation Serif", "DejaVu Serif", serif' font-weight="bold" font-size="34.24" text-anchor="start" >7 mV/s</text>
<line x1="777.4" y1="399.5" x2="844.7" y2="399.5" stroke="#0000ff" stroke-width="5.2" stroke-linecap="round"/>
<text transform="translate(854.47 410.6) scale(0.9091 1)" font-family='"Liberation Serif", "DejaVu Serif", serif' font-weight="bold" font-size="34.24" text-anchor="start" >8 mV/s</text>
<line x1="777.4" y1="437.9" x2="844.7" y2="437.9" stroke="#ff00ff" stroke-width="5.2" stroke-linecap="round"/>
<text transform="translate(854.47 449) scale(0.9091 1)" font-family='"Liberation Serif", "DejaVu Serif", serif' font-weight="bold" font-size="34.24" text-anchor="start" >9 mV/s</text>
<line x1="777.4" y1="476.3" x2="844.7" y2="476.3" stroke="#008000" stroke-width="5.2" stroke-linecap="round"/>
<text transform="translate(852.91 487.4) scale(0.9091 1)" font-family='"Liberation Serif", "DejaVu Serif", serif' font-weight="bold" font-size="34.24" text-anchor="start" >10 mV/s</text>
<text transform="translate(18.18 62.4) scale(0.9413 1)" font-family='"Liberation Sans", "DejaVu Sans", sans-serif' font-weight="normal" font-size="72.32" text-anchor="start" >a</text>
<g fill="none" stroke-linejoin="round" stroke-linecap="round">
<path d="M1231.73 362.61C1232.03 361.45 1232.73 358 1233.54 355.69C1234.34 353.39 1235.15 351.15 1236.56 348.78C1237.98 346.41 1239.78 343.95 1242.05 341.46C1244.32 338.98 1247.23 336.26 1250.2 333.86C1253.16 331.46 1256.56 329.09 1259.83 327.06C1263.09 325.02 1266.47 323.28 1269.79 321.64C1273.11 320.01 1276.43 318.62 1279.76 317.23C1283.08 315.85 1286.4 314.59 1289.72 313.34C1293.04 312.09 1296.36 310.91 1299.69 309.74C1303.01 308.57 1306.33 307.45 1309.65 306.33C1312.97 305.22 1316.29 304.14 1319.62 303.06C1322.94 301.99 1326.26 300.94 1329.58 299.91C1332.9 298.87 1336.22 297.85 1339.55 296.86C1342.87 295.87 1346.19 294.88 1349.51 293.95C1352.83 293.01 1356.16 292.09 1359.48 291.24C1362.8 290.39 1366.12 289.59 1369.44 288.85C1372.76 288.11 1375.97 287.52 1379.41 286.79C1382.84 286.06 1386.06 285.59 1390.04 284.46C1394.02 283.33 1398.23 282.13 1403.28 280.03C1408.33 277.93 1414.26 275.17 1420.35 271.86C1426.44 268.54 1433.24 264.51 1439.82 260.12C1446.39 255.73 1453.14 250.85 1459.79 245.53C1466.44 240.21 1473.08 234.36 1479.72 228.22C1486.36 222.07 1493.11 215.23 1499.65 208.66C1506.19 202.09 1512.94 194.92 1518.96 188.79C1524.98 182.67 1530.79 176.71 1535.77 171.91C1540.76 167.12 1544.91 163.37 1548.85 160.02C1552.8 156.66 1556.02 154.29 1559.44 151.8C1562.87 149.3 1566.09 147.18 1569.41 145.07C1572.73 142.96 1576.05 140.98 1579.37 139.12C1582.69 137.25 1586.02 135.56 1589.34 133.9C1592.66 132.24 1595.98 130.72 1599.3 129.15C1602.62 127.58 1605.95 126.09 1609.27 124.45C1612.59 122.82 1615.91 121.2 1619.23 119.35C1622.55 117.49 1625.88 115.55 1629.2 113.33C1632.52 111.12 1635.84 108.65 1639.16 106.06C1642.48 103.46 1645.83 100.55 1649.13 97.76C1652.43 94.97 1655.81 91.97 1658.97 89.29C1662.12 86.61 1665.32 83.91 1668.06 81.7C1670.8 79.5 1673.29 77.53 1675.41 76.04C1677.53 74.54 1679.15 73.55 1680.77 72.75C1682.39 71.94 1683.65 71.59 1685.13 71.22C1686.6 70.85 1688.05 70.64 1689.61 70.53C1691.17 70.42 1692.81 70.35 1694.47 70.57C1696.13 70.79 1697.79 71.09 1699.58 71.85C1701.36 72.61 1703.15 73.51 1705.18 75.13C1707.22 76.74 1709.35 78.72 1711.78 81.54C1714.21 84.37 1716.89 88.02 1719.76 92.07C1722.62 96.12 1725.84 101.2 1728.97 105.83C1732.11 110.46 1735.53 115.66 1738.57 119.85C1741.6 124.03 1744.61 127.95 1747.16 130.96C1749.71 133.96 1751.85 136.15 1753.89 137.88C1755.92 139.62 1757.54 140.61 1759.37 141.36C1761.19 142.11 1762.98 142.43 1764.85 142.37C1766.72 142.3 1768.73 141.81 1770.58 140.98C1772.43 140.16 1774.25 138.79 1775.93 137.41C1777.62 136.02 1779.88 133.46 1780.67 132.68L1783 129.93C1782.73 131.69 1782.05 136.94 1781.41 140.52C1780.77 144.1 1780.05 147.7 1779.17 151.42C1778.29 155.13 1777.24 158.9 1776.12 162.82C1774.99 166.73 1773.76 170.8 1772.41 174.9C1771.07 179 1769.66 183.27 1768.05 187.42C1766.44 191.56 1764.72 195.77 1762.76 199.75C1760.8 203.72 1758.68 207.62 1756.28 211.27C1753.88 214.92 1751.3 218.36 1748.37 221.67C1745.44 224.98 1742.23 228.1 1738.72 231.14C1735.2 234.17 1731.43 237.06 1727.27 239.87C1723.1 242.69 1718.7 245.41 1713.73 248.03C1708.76 250.66 1703.29 253.25 1697.47 255.62C1691.65 257.99 1685.22 260.22 1678.83 262.27C1672.43 264.32 1665.7 266.15 1659.09 267.93C1652.48 269.71 1645.81 271.34 1639.16 272.94C1632.52 274.54 1625.88 276 1619.23 277.52C1612.59 279.04 1605.84 280.49 1599.3 282.06C1592.76 283.62 1586.02 285.28 1580 286.94C1573.97 288.59 1568.16 290.32 1563.18 291.98C1558.2 293.64 1554.04 295.21 1550.1 296.9C1546.16 298.6 1542.94 300.2 1539.51 302.14C1536.09 304.07 1532.87 306.09 1529.55 308.49C1526.22 310.89 1522.9 313.52 1519.58 316.52C1516.26 319.52 1512.94 322.81 1509.62 326.49C1506.29 330.16 1502.97 334.13 1499.65 338.57C1496.33 343.01 1493.01 347.81 1489.69 353.14C1486.36 358.48 1483.04 364.27 1479.72 370.58C1476.4 376.89 1473.08 383.73 1469.76 391.01C1466.43 398.29 1463.22 405.91 1459.79 414.24C1456.36 422.58 1452.97 431.38 1449.16 441.03C1445.35 450.69 1440.99 461.97 1436.91 472.16C1432.84 482.35 1428.26 493.73 1424.71 502.18C1421.15 510.63 1418.16 517.54 1415.57 522.86C1412.98 528.19 1411.23 531.18 1409.18 534.11C1407.13 537.04 1405.3 538.92 1403.26 540.46C1401.23 542 1399.14 543.01 1396.97 543.35C1394.8 543.7 1392.59 543.47 1390.24 542.52C1387.9 541.57 1385.46 539.95 1382.89 537.65C1380.33 535.34 1377.58 532.22 1374.86 528.68C1372.14 525.14 1369.35 521.02 1366.58 516.43C1363.81 511.85 1361.12 506.82 1358.23 501.18C1355.35 495.53 1352.38 489.07 1349.26 482.55C1346.15 476.03 1342.83 468.78 1339.55 462.06C1336.27 455.35 1332.9 448.54 1329.58 442.26C1326.26 435.98 1322.94 429.96 1319.62 424.38C1316.29 418.81 1312.97 413.56 1309.65 408.81C1306.33 404.07 1303.01 399.74 1299.69 395.92C1296.36 392.1 1293.15 388.82 1289.72 385.89C1286.3 382.96 1283.01 380.58 1279.13 378.36C1275.25 376.13 1270.94 374.25 1266.43 372.56C1261.92 370.87 1256.51 369.45 1252.1 368.21C1247.69 366.97 1243.35 366.05 1239.96 365.12C1236.56 364.18 1233.1 363.02 1231.73 362.61" stroke="#000000" stroke-width="5.0"/>
<path d="M1231.73 360.11C1232.03 359.24 1232.78 356.58 1233.54 354.88C1234.29 353.19 1235.15 351.57 1236.25 349.93C1237.36 348.29 1238.69 346.73 1240.18 345.04C1241.68 343.36 1243.29 341.63 1245.21 339.81C1247.14 337.99 1249.24 336.04 1251.73 334.14C1254.22 332.24 1257.13 330.23 1260.14 328.41C1263.15 326.6 1266.52 324.84 1269.79 323.24C1273.06 321.65 1276.43 320.23 1279.76 318.85C1283.08 317.47 1286.4 316.21 1289.72 314.96C1293.04 313.71 1296.36 312.51 1299.69 311.35C1303.01 310.19 1306.33 309.07 1309.65 307.98C1312.97 306.9 1316.29 305.87 1319.62 304.84C1322.94 303.81 1326.26 302.82 1329.58 301.82C1332.9 300.82 1336.22 299.82 1339.55 298.83C1342.87 297.84 1346.19 296.83 1349.51 295.87C1352.83 294.91 1356.16 293.95 1359.48 293.07C1362.8 292.19 1366.12 291.35 1369.44 290.58C1372.76 289.8 1375.97 289.19 1379.41 288.42C1382.84 287.64 1386.06 287.11 1390.04 285.93C1394.02 284.76 1398.23 283.47 1403.28 281.37C1408.33 279.27 1414.26 276.52 1420.35 273.33C1426.44 270.15 1433.24 266.34 1439.82 262.26C1446.39 258.17 1453.14 253.7 1459.79 248.83C1466.44 243.97 1473.08 238.61 1479.72 233.07C1486.36 227.54 1493.11 221.4 1499.65 215.64C1506.19 209.87 1512.94 203.72 1518.96 198.51C1524.98 193.3 1530.79 188.36 1535.77 184.37C1540.76 180.38 1544.91 177.31 1548.85 174.59C1552.8 171.87 1556.02 169.98 1559.44 168.05C1562.87 166.13 1566.14 164.57 1569.41 163.03C1572.68 161.49 1576.05 160.14 1579.06 158.81C1582.07 157.48 1584.93 156.29 1587.47 155.03C1590.01 153.78 1592.04 152.55 1594.32 151.27C1596.6 150 1598.63 148.64 1601.17 147.37C1603.71 146.11 1606.57 144.82 1609.58 143.66C1612.59 142.5 1615.96 141.47 1619.23 140.4C1622.5 139.33 1625.94 138.37 1629.2 137.26C1632.46 136.15 1635.82 134.97 1638.79 133.76C1641.76 132.55 1644.52 131.22 1647.01 130.01C1649.5 128.8 1651.45 127.63 1653.74 126.47C1656.02 125.32 1658.12 124.23 1660.71 123.08C1663.31 121.94 1666.3 120.69 1669.31 119.62C1672.32 118.55 1675.76 117.42 1678.77 116.64C1681.78 115.87 1684.77 115.25 1687.37 114.99C1689.96 114.73 1692.06 114.66 1694.34 115.09C1696.63 115.52 1698.58 116.22 1701.07 117.57C1703.56 118.91 1706.32 120.82 1709.29 123.15C1712.26 125.47 1715.62 128.52 1718.88 131.53C1722.14 134.54 1725.53 138.1 1728.85 141.21C1732.17 144.32 1735.53 147.6 1738.81 150.2C1742.09 152.81 1745.46 155.15 1748.53 156.84C1751.6 158.53 1754.59 159.7 1757.25 160.33C1759.91 160.96 1762.25 161.01 1764.47 160.64C1766.7 160.27 1768.67 159.3 1770.58 158.09C1772.49 156.88 1774.25 155.12 1775.93 153.38C1777.62 151.63 1779.88 148.58 1780.67 147.62L1783 145.38C1782.75 147.04 1782.02 151.96 1781.5 155.34C1780.99 158.72 1780.52 162.14 1779.92 165.65C1779.31 169.16 1778.71 172.76 1777.89 176.39C1777.07 180.02 1776.15 183.77 1775 187.42C1773.84 191.06 1772.53 194.73 1770.98 198.25C1769.43 201.77 1767.69 205.21 1765.69 208.53C1763.68 211.85 1761.46 215.09 1758.96 218.18C1756.46 221.28 1753.71 224.28 1750.68 227.12C1747.64 229.96 1744.36 232.64 1740.77 235.22C1737.18 237.8 1733.41 240.19 1729.14 242.59C1724.86 244.99 1720.27 247.32 1715.1 249.64C1709.93 251.96 1704.12 254.32 1698.09 256.5C1692.07 258.68 1685.45 260.81 1678.95 262.74C1672.45 264.67 1665.72 266.41 1659.09 268.07C1652.46 269.72 1645.81 271.2 1639.16 272.66C1632.52 274.13 1625.88 275.46 1619.23 276.86C1612.59 278.26 1605.95 279.57 1599.3 281.06C1592.66 282.55 1586.02 283.99 1579.37 285.79C1572.73 287.6 1565.98 289.53 1559.44 291.9C1552.9 294.26 1546.16 297.08 1540.13 299.99C1534.11 302.9 1528.3 306.22 1523.32 309.36C1518.34 312.5 1514.18 315.59 1510.24 318.83C1506.29 322.07 1503.08 325.16 1499.65 328.79C1496.23 332.42 1493.01 336.23 1489.69 340.63C1486.36 345.02 1483.04 349.83 1479.72 355.14C1476.4 360.44 1473.08 366.29 1469.76 372.45C1466.43 378.62 1463.11 385.32 1459.79 392.13C1456.47 398.94 1453.09 406.28 1449.83 413.31C1446.57 420.34 1443.21 427.78 1440.23 434.3C1437.26 440.82 1434.5 447.04 1431.97 452.43C1429.45 457.83 1427.43 462.33 1425.08 466.68C1422.73 471.02 1420.52 474.97 1417.86 478.51C1415.19 482.06 1412.18 485.6 1409.09 487.96C1406.01 490.33 1402.62 492.11 1399.34 492.71C1396.05 493.3 1392.69 492.79 1389.37 491.52C1386.05 490.26 1382.73 487.92 1379.41 485.11C1376.09 482.29 1372.76 478.63 1369.44 474.64C1366.12 470.66 1362.8 466 1359.48 461.19C1356.16 456.38 1352.83 451.05 1349.51 445.81C1346.19 440.57 1342.87 434.98 1339.55 429.74C1336.22 424.5 1332.9 419.17 1329.58 414.35C1326.26 409.54 1322.94 404.92 1319.62 400.84C1316.29 396.76 1313.08 393.13 1309.65 389.88C1306.23 386.63 1303.01 383.92 1299.06 381.35C1295.12 378.77 1290.86 376.53 1285.98 374.41C1281.11 372.28 1275.17 370.28 1269.79 368.6C1264.41 366.93 1258.48 365.49 1253.71 364.35C1248.94 363.22 1244.86 362.48 1241.19 361.78C1237.53 361.07 1233.31 360.39 1231.73 360.11" stroke="#ff0000" stroke-width="5.0"/>
<path d="M1231.73 354.14C1232.09 353.4 1233.08 351.23 1233.9 349.71C1234.72 348.19 1235.58 346.63 1236.66 345.01C1237.74 343.39 1238.95 341.67 1240.39 340C1241.82 338.33 1243.36 336.66 1245.25 334.98C1247.14 333.31 1249.25 331.65 1251.73 329.97C1254.21 328.29 1257.13 326.51 1260.14 324.89C1263.15 323.27 1266.52 321.68 1269.79 320.25C1273.06 318.83 1276.43 317.58 1279.76 316.33C1283.08 315.08 1286.4 313.95 1289.72 312.78C1293.04 311.61 1296.36 310.45 1299.69 309.29C1303.01 308.14 1306.33 306.97 1309.65 305.84C1312.97 304.7 1316.29 303.58 1319.62 302.5C1322.94 301.42 1326.26 300.38 1329.58 299.36C1332.9 298.34 1336.22 297.34 1339.55 296.37C1342.87 295.4 1346.19 294.44 1349.51 293.54C1352.83 292.63 1356.16 291.74 1359.48 290.92C1362.8 290.09 1366.12 289.31 1369.44 288.58C1372.76 287.86 1375.97 287.27 1379.41 286.59C1382.84 285.91 1386.06 285.46 1390.04 284.49C1394.02 283.52 1398.23 282.51 1403.28 280.76C1408.33 279 1414.26 276.74 1420.35 273.97C1426.44 271.21 1433.24 267.85 1439.82 264.17C1446.39 260.49 1453.14 256.34 1459.79 251.88C1466.44 247.43 1473.08 242.47 1479.72 237.43C1486.36 232.4 1493.01 226.91 1499.65 221.68C1506.29 216.44 1512.94 211.02 1519.58 206.04C1526.22 201.07 1532.87 196.19 1539.51 191.84C1546.16 187.5 1552.8 183.5 1559.44 179.99C1566.09 176.47 1572.73 173.5 1579.37 170.75C1586.02 168.01 1592.66 165.81 1599.3 163.54C1605.95 161.28 1612.69 159.25 1619.23 157.18C1625.77 155.1 1632.52 152.97 1638.54 151.09C1644.56 149.2 1650.37 147.35 1655.36 145.88C1660.34 144.41 1664.49 143.2 1668.44 142.29C1672.38 141.38 1675.6 140.73 1679.02 140.44C1682.45 140.15 1685.67 140.08 1688.99 140.55C1692.31 141.02 1695.63 141.89 1698.95 143.24C1702.28 144.59 1705.6 146.53 1708.92 148.64C1712.24 150.76 1715.56 153.45 1718.88 155.91C1722.21 158.36 1725.53 161.13 1728.85 163.38C1732.17 165.63 1735.53 167.8 1738.81 169.42C1742.09 171.05 1745.46 172.32 1748.53 173.13C1751.6 173.95 1754.61 174.33 1757.24 174.3C1759.87 174.28 1762.22 173.78 1764.31 173.01C1766.39 172.24 1768.17 170.94 1769.73 169.7C1771.29 168.45 1772.53 166.89 1773.66 165.54C1774.78 164.18 1775.99 162.23 1776.46 161.57L1776.41 162.82C1776.13 164.38 1775.4 168.99 1774.71 172.22C1774.03 175.45 1773.31 178.75 1772.31 182.18C1771.31 185.62 1770.17 189.22 1768.73 192.84C1767.28 196.45 1765.61 200.25 1763.65 203.86C1761.69 207.47 1759.44 211.16 1756.97 214.51C1754.49 217.86 1751.71 221.06 1748.81 223.98C1745.9 226.89 1742.71 229.55 1739.53 232.01C1736.34 234.47 1733.2 236.62 1729.69 238.74C1726.17 240.86 1722.93 242.65 1718.42 244.73C1713.92 246.81 1708.75 248.92 1702.64 251.23C1696.54 253.54 1688.92 256.19 1681.78 258.59C1674.63 260.99 1666.87 263.47 1659.77 265.63C1652.67 267.8 1645.92 269.74 1639.16 271.55C1632.41 273.37 1625.88 274.95 1619.23 276.51C1612.59 278.07 1605.95 279.45 1599.3 280.92C1592.66 282.39 1586.02 283.69 1579.37 285.32C1572.73 286.95 1566.09 288.51 1559.44 290.69C1552.8 292.87 1546.05 295.35 1539.51 298.4C1532.97 301.44 1526.22 305.19 1520.2 308.96C1514.18 312.73 1508.37 317 1503.39 321.01C1498.41 325.02 1494.25 328.96 1490.31 333.03C1486.36 337.1 1483.15 341.04 1479.72 345.42C1476.3 349.8 1473.08 354.4 1469.76 359.31C1466.43 364.22 1463.11 369.48 1459.79 374.88C1456.47 380.28 1453.15 385.99 1449.83 391.7C1446.5 397.41 1443.16 403.42 1439.86 409.14C1436.56 414.86 1433.2 420.81 1430.02 426.01C1426.84 431.21 1423.67 436.3 1420.8 440.34C1417.94 444.38 1415.33 447.75 1412.83 450.24C1410.33 452.73 1408.24 454.3 1405.81 455.3C1403.39 456.29 1401.05 456.51 1398.3 456.21C1395.55 455.92 1392.47 455 1389.33 453.54C1386.19 452.07 1382.76 449.98 1379.45 447.42C1376.13 444.85 1372.77 441.63 1369.44 438.15C1366.11 434.66 1362.8 430.57 1359.48 426.5C1356.16 422.43 1352.83 417.93 1349.51 413.73C1346.19 409.54 1342.87 405.22 1339.55 401.34C1336.22 397.46 1333.01 393.78 1329.58 390.44C1326.16 387.1 1322.94 384.12 1318.99 381.28C1315.05 378.45 1310.9 375.87 1305.91 373.44C1300.93 371 1295.1 368.7 1289.1 366.68C1283.1 364.67 1276.33 362.9 1269.9 361.35C1263.48 359.8 1256.9 358.6 1250.54 357.39C1244.17 356.19 1234.86 354.68 1231.73 354.14" stroke="#0000ff" stroke-width="5.0"/>
<path d="M1231.73 348.16C1232.39 346.91 1234.31 342.99 1235.71 340.68C1237.1 338.37 1238.52 336.24 1240.1 334.3C1241.69 332.36 1243.28 330.73 1245.21 329.04C1247.15 327.34 1249.24 325.78 1251.73 324.12C1254.22 322.45 1257.13 320.72 1260.14 319.04C1263.15 317.36 1266.52 315.64 1269.79 314.06C1273.06 312.47 1276.43 310.96 1279.76 309.54C1283.08 308.12 1286.4 306.8 1289.72 305.56C1293.04 304.31 1296.36 303.15 1299.69 302.07C1303.01 300.98 1306.33 299.99 1309.65 299.05C1312.97 298.1 1316.29 297.23 1319.62 296.4C1322.94 295.57 1326.26 294.79 1329.58 294.06C1332.9 293.34 1336.22 292.68 1339.55 292.06C1342.87 291.44 1346.19 290.88 1349.51 290.32C1352.83 289.76 1356.16 289.23 1359.48 288.7C1362.8 288.17 1366.12 287.65 1369.44 287.16C1372.76 286.66 1375.97 286.25 1379.41 285.73C1382.84 285.21 1386.06 284.85 1390.04 284.02C1394.02 283.19 1398.23 282.29 1403.28 280.74C1408.33 279.19 1414.26 277.18 1420.35 274.73C1426.44 272.27 1433.24 269.3 1439.82 266C1446.39 262.69 1453.14 258.94 1459.79 254.9C1466.44 250.85 1473.08 246.31 1479.72 241.73C1486.36 237.15 1493.01 232.14 1499.65 227.41C1506.29 222.67 1512.94 217.75 1519.58 213.33C1526.22 208.91 1532.87 204.61 1539.51 200.87C1546.16 197.14 1552.8 193.82 1559.44 190.91C1566.09 188 1572.73 185.64 1579.37 183.44C1586.02 181.23 1592.66 179.47 1599.3 177.71C1605.95 175.94 1612.69 174.4 1619.23 172.85C1625.77 171.3 1632.52 169.78 1638.54 168.4C1644.56 167.02 1650.37 165.64 1655.36 164.55C1660.34 163.47 1664.49 162.51 1668.44 161.9C1672.38 161.29 1675.6 160.9 1679.02 160.88C1682.45 160.86 1685.67 161.1 1688.99 161.77C1692.31 162.44 1695.63 163.52 1698.95 164.9C1702.28 166.28 1705.6 168.18 1708.92 170.04C1712.24 171.91 1715.56 174.17 1718.88 176.09C1722.21 178.01 1725.53 180.01 1728.85 181.57C1732.17 183.12 1735.51 184.52 1738.81 185.43C1742.12 186.34 1745.48 186.94 1748.65 187.05C1751.83 187.15 1755.03 186.8 1757.84 186.05C1760.65 185.3 1763.28 184.01 1765.5 182.56C1767.72 181.12 1769.51 179.23 1771.15 177.39C1772.79 175.56 1774.65 172.52 1775.35 171.54L1776.41 172.78C1776.19 174.4 1775.66 179.16 1775.09 182.5C1774.52 185.83 1773.9 189.32 1772.99 192.77C1772.09 196.23 1771.01 199.83 1769.66 203.24C1768.31 206.64 1766.75 209.99 1764.92 213.2C1763.08 216.41 1761.02 219.49 1758.64 222.48C1756.26 225.47 1753.59 228.37 1750.61 231.14C1747.63 233.9 1744.56 236.51 1740.77 239.08C1736.99 241.65 1733.21 244.02 1727.89 246.54C1722.57 249.06 1716.12 251.66 1708.87 254.2C1701.62 256.74 1692.49 259.47 1684.39 261.77C1676.29 264.08 1667.8 266.19 1660.27 268.02C1652.73 269.85 1646 271.28 1639.16 272.75C1632.32 274.22 1625.88 275.51 1619.23 276.85C1612.59 278.19 1605.95 279.48 1599.3 280.81C1592.66 282.14 1586.02 283.34 1579.37 284.83C1572.73 286.32 1566.09 287.73 1559.44 289.74C1552.8 291.75 1546.05 294.06 1539.51 296.92C1532.97 299.77 1526.22 303.3 1520.2 306.87C1514.18 310.43 1508.37 314.5 1503.39 318.3C1498.41 322.1 1494.25 325.89 1490.31 329.66C1486.36 333.44 1483.15 337.06 1479.72 340.94C1476.3 344.81 1473.08 348.75 1469.76 352.89C1466.43 357.04 1463.11 361.38 1459.79 365.79C1456.47 370.2 1453.15 374.81 1449.83 379.36C1446.5 383.92 1443.16 388.67 1439.86 393.13C1436.56 397.59 1433.2 402.18 1430.02 406.15C1426.84 410.11 1423.67 413.92 1420.8 416.92C1417.94 419.92 1415.33 422.37 1412.83 424.15C1410.33 425.92 1408.24 426.99 1405.81 427.58C1403.39 428.17 1401.05 428.16 1398.3 427.69C1395.55 427.22 1392.47 426.22 1389.33 424.76C1386.19 423.31 1382.76 421.28 1379.45 418.95C1376.13 416.63 1372.77 413.73 1369.44 410.8C1366.11 407.88 1362.8 404.56 1359.48 401.4C1356.16 398.24 1352.83 394.93 1349.51 391.87C1346.19 388.81 1342.87 385.77 1339.55 383.03C1336.22 380.29 1333.01 377.71 1329.58 375.43C1326.16 373.14 1322.94 371.17 1318.99 369.32C1315.05 367.48 1310.9 365.92 1305.91 364.34C1300.93 362.76 1295.1 361.31 1289.1 359.86C1283.1 358.41 1276.33 357 1269.9 355.66C1263.48 354.31 1256.9 353.04 1250.54 351.79C1244.17 350.54 1234.86 348.76 1231.73 348.16" stroke="#ff00ff" stroke-width="5.0"/>
<path d="M1231.73 332.71C1232.39 331.51 1234.31 327.61 1235.71 325.52C1237.1 323.42 1238.52 321.64 1240.1 320.13C1241.69 318.62 1243.28 317.59 1245.21 316.44C1247.15 315.29 1249.24 314.33 1251.73 313.23C1254.22 312.13 1257.13 310.97 1260.14 309.86C1263.15 308.75 1266.52 307.61 1269.79 306.59C1273.06 305.56 1276.43 304.61 1279.76 303.71C1283.08 302.81 1286.4 301.98 1289.72 301.18C1293.04 300.37 1296.36 299.61 1299.69 298.87C1303.01 298.12 1306.33 297.41 1309.65 296.71C1312.97 296.01 1316.29 295.33 1319.62 294.67C1322.94 294.01 1326.26 293.36 1329.58 292.74C1332.9 292.13 1336.22 291.54 1339.55 290.98C1342.87 290.42 1346.19 289.9 1349.51 289.39C1352.83 288.88 1356.16 288.39 1359.48 287.91C1362.8 287.43 1366.12 286.97 1369.44 286.53C1372.76 286.09 1375.97 285.72 1379.41 285.26C1382.84 284.79 1386.06 284.48 1390.04 283.74C1394.02 282.99 1398.23 282.19 1403.28 280.81C1408.33 279.42 1414.26 277.64 1420.35 275.44C1426.44 273.25 1433.24 270.59 1439.82 267.63C1446.39 264.67 1453.14 261.29 1459.79 257.68C1466.44 254.06 1473.08 250.01 1479.72 245.97C1486.36 241.92 1493.01 237.54 1499.65 233.42C1506.29 229.3 1512.94 225.07 1519.58 221.24C1526.22 217.41 1532.87 213.7 1539.51 210.47C1546.16 207.23 1552.8 204.32 1559.44 201.81C1566.09 199.3 1572.73 197.26 1579.37 195.39C1586.02 193.53 1592.66 192.08 1599.3 190.6C1605.95 189.11 1612.69 187.81 1619.23 186.49C1625.77 185.16 1632.52 183.82 1638.54 182.66C1644.56 181.5 1650.37 180.37 1655.36 179.54C1660.34 178.71 1664.49 178.05 1668.44 177.68C1672.38 177.31 1675.6 177.16 1679.02 177.29C1682.45 177.43 1685.67 177.8 1688.99 178.49C1692.31 179.18 1695.63 180.2 1698.95 181.44C1702.28 182.68 1705.6 184.33 1708.92 185.93C1712.24 187.53 1715.56 189.42 1718.88 191.03C1722.21 192.64 1725.53 194.28 1728.85 195.58C1732.17 196.88 1735.51 198 1738.81 198.82C1742.12 199.64 1745.48 200.22 1748.65 200.5C1751.83 200.78 1755.03 200.76 1757.84 200.5C1760.65 200.24 1763.28 199.63 1765.5 198.94C1767.72 198.26 1769.51 197.3 1771.15 196.39C1772.79 195.48 1774.65 193.95 1775.35 193.46L1776.41 192.71C1776.13 194.05 1775.41 197.95 1774.71 200.74C1774.02 203.54 1773.31 206.5 1772.25 209.46C1771.19 212.43 1769.97 215.55 1768.35 218.56C1766.73 221.57 1764.82 224.6 1762.53 227.53C1760.23 230.45 1758.01 233.3 1754.6 236.12C1751.19 238.95 1747.91 241.63 1742.09 244.48C1736.28 247.33 1728.49 250.35 1719.71 253.23C1710.92 256.1 1699.12 259.23 1689.37 261.75C1679.63 264.27 1669.63 266.47 1661.26 268.33C1652.89 270.19 1646.17 271.49 1639.16 272.91C1632.16 274.33 1625.88 275.56 1619.23 276.85C1612.59 278.14 1605.95 279.4 1599.3 280.67C1592.66 281.94 1586.02 283.07 1579.37 284.46C1572.73 285.85 1566.09 287.13 1559.44 289.02C1552.8 290.9 1546.05 293.06 1539.51 295.77C1532.97 298.47 1526.22 301.86 1520.2 305.25C1514.18 308.64 1508.37 312.53 1503.39 316.09C1498.41 319.64 1494.25 323.16 1490.31 326.57C1486.36 329.99 1483.15 333.21 1479.72 336.58C1476.3 339.95 1473.08 343.3 1469.76 346.79C1466.43 350.28 1463.11 353.86 1459.79 357.5C1456.47 361.15 1453.15 364.93 1449.83 368.65C1446.5 372.38 1443.18 376.27 1439.86 379.86C1436.54 383.45 1433.22 387.13 1429.9 390.2C1426.57 393.27 1423.26 396.18 1419.93 398.3C1416.6 400.42 1413.28 402.03 1409.92 402.92C1406.57 403.81 1403.18 403.97 1399.79 403.65C1396.4 403.32 1392.97 402.28 1389.58 400.97C1386.19 399.66 1382.8 397.78 1379.45 395.78C1376.09 393.79 1372.77 391.38 1369.44 389.01C1366.11 386.63 1362.8 383.99 1359.48 381.53C1356.16 379.07 1352.94 376.57 1349.51 374.25C1346.09 371.92 1342.87 369.74 1338.92 367.58C1334.98 365.42 1330.83 363.36 1325.84 361.29C1320.86 359.22 1315.05 357.18 1309.03 355.19C1303.01 353.19 1296.24 351.26 1289.72 349.33C1283.2 347.4 1276.43 345.49 1269.9 343.61C1263.37 341.72 1256.9 339.84 1250.54 338.02C1244.17 336.21 1234.86 333.6 1231.73 332.71" stroke="#000080" stroke-width="5.0"/>
<path d="M1232.05 320.25C1232.7 319.81 1234.31 318.58 1235.94 317.58C1237.57 316.57 1239.46 315.47 1241.83 314.24C1244.2 313.02 1247.16 311.55 1250.16 310.23C1253.15 308.9 1256.55 307.49 1259.83 306.3C1263.1 305.12 1266.47 304.06 1269.79 303.11C1273.11 302.17 1276.43 301.39 1279.76 300.65C1283.08 299.9 1286.4 299.28 1289.72 298.64C1293.04 298.01 1296.36 297.43 1299.69 296.84C1303.01 296.24 1306.33 295.66 1309.65 295.08C1312.97 294.5 1316.29 293.92 1319.62 293.37C1322.94 292.81 1326.26 292.26 1329.58 291.74C1332.9 291.22 1336.22 290.72 1339.55 290.24C1342.87 289.76 1346.19 289.3 1349.51 288.84C1352.83 288.38 1356.16 287.92 1359.48 287.48C1362.8 287.03 1366.12 286.58 1369.44 286.16C1372.76 285.74 1375.97 285.4 1379.41 284.97C1382.84 284.53 1386.06 284.24 1390.04 283.56C1394.02 282.88 1398.23 282.14 1403.28 280.89C1408.33 279.64 1414.26 278.02 1420.35 276.05C1426.44 274.09 1433.24 271.73 1439.82 269.09C1446.39 266.46 1453.14 263.47 1459.79 260.25C1466.44 257.04 1473.08 253.41 1479.72 249.83C1486.36 246.24 1493.01 242.33 1499.65 238.74C1506.29 235.15 1512.94 231.51 1519.58 228.28C1526.22 225.05 1532.87 222.03 1539.51 219.37C1546.16 216.71 1552.8 214.4 1559.44 212.33C1566.09 210.27 1572.73 208.56 1579.37 206.98C1586.02 205.4 1592.66 204.1 1599.3 202.87C1605.95 201.64 1612.69 200.56 1619.23 199.59C1625.77 198.62 1632.52 197.74 1638.54 197.05C1644.56 196.37 1650.37 195.79 1655.36 195.48C1660.34 195.17 1664.49 195.04 1668.44 195.18C1672.38 195.33 1675.6 195.72 1679.02 196.35C1682.45 196.99 1685.67 197.92 1688.99 199.01C1692.31 200.09 1695.63 201.47 1698.95 202.87C1702.28 204.27 1705.6 205.9 1708.92 207.41C1712.24 208.93 1715.56 210.56 1718.88 211.96C1722.21 213.36 1725.53 214.74 1728.85 215.82C1732.17 216.9 1735.49 217.86 1738.81 218.44C1742.14 219.02 1745.51 219.37 1748.78 219.31C1752.05 219.25 1755.45 218.8 1758.44 218.06C1761.43 217.33 1764.36 216.11 1766.72 214.89C1769.07 213.66 1770.95 212.13 1772.57 210.71C1774.19 209.3 1775.81 207.13 1776.46 206.42L1776.41 206.66C1776.07 207.95 1775.24 211.72 1774.33 214.38C1773.42 217.05 1772.4 219.87 1770.95 222.67C1769.51 225.47 1767.74 228.42 1765.66 231.2C1763.59 233.98 1761.64 236.69 1758.49 239.33C1755.34 241.97 1752.52 244.42 1746.76 247.04C1741 249.65 1733.13 252.37 1723.94 254.99C1714.75 257.62 1701.98 260.48 1691.62 262.78C1681.25 265.09 1670.5 267.1 1661.76 268.82C1653.02 270.53 1646.25 271.74 1639.16 273.07C1632.07 274.41 1625.88 275.61 1619.23 276.85C1612.59 278.09 1605.95 279.32 1599.3 280.51C1592.66 281.7 1586.02 282.72 1579.37 284C1572.73 285.28 1566.09 286.43 1559.44 288.17C1552.8 289.91 1546.05 291.94 1539.51 294.44C1532.97 296.93 1526.22 300.08 1520.2 303.13C1514.18 306.18 1508.37 309.65 1503.39 312.72C1498.41 315.8 1494.25 318.73 1490.31 321.59C1486.36 324.46 1483.15 327.09 1479.72 329.91C1476.3 332.73 1473.08 335.59 1469.76 338.51C1466.43 341.42 1463.11 344.45 1459.79 347.41C1456.47 350.38 1453.15 353.4 1449.83 356.32C1446.5 359.24 1443.18 362.2 1439.86 364.92C1436.54 367.63 1433.22 370.38 1429.9 372.64C1426.57 374.9 1423.26 377.02 1419.93 378.49C1416.6 379.97 1413.28 380.98 1409.92 381.49C1406.57 382.01 1403.18 381.93 1399.79 381.6C1396.4 381.26 1392.97 380.49 1389.58 379.48C1386.19 378.48 1382.8 377.11 1379.45 375.54C1376.09 373.97 1372.87 372.05 1369.44 370.07C1366.01 368.09 1362.8 365.9 1358.85 363.66C1354.91 361.42 1350.65 359.02 1345.77 356.62C1340.9 354.22 1334.98 351.62 1329.58 349.27C1324.18 346.93 1318.27 344.58 1313.39 342.57C1308.51 340.55 1304.25 338.8 1300.31 337.17C1296.36 335.55 1293.15 334.17 1289.72 332.83C1286.3 331.5 1283.08 330.27 1279.76 329.16C1276.43 328.05 1273.11 327.06 1269.79 326.18C1266.47 325.31 1263.13 324.58 1259.83 323.92C1256.53 323.26 1253.18 322.71 1249.99 322.23C1246.8 321.75 1243.68 321.38 1240.69 321.05C1237.7 320.72 1233.49 320.39 1232.05 320.25" stroke="#8000ff" stroke-width="5.0"/>
<path d="M1231.73 320.75C1232.45 319.92 1234.31 317.35 1236.02 315.77C1237.73 314.19 1239.61 312.73 1241.97 311.29C1244.33 309.84 1247.22 308.44 1250.2 307.11C1253.17 305.78 1256.56 304.45 1259.83 303.31C1263.09 302.18 1266.47 301.16 1269.79 300.29C1273.11 299.42 1276.43 298.73 1279.76 298.08C1283.08 297.43 1286.4 296.91 1289.72 296.38C1293.04 295.84 1296.36 295.37 1299.69 294.88C1303.01 294.39 1306.33 293.92 1309.65 293.45C1312.97 292.98 1316.29 292.52 1319.62 292.07C1322.94 291.61 1326.26 291.16 1329.58 290.73C1332.9 290.3 1336.22 289.89 1339.55 289.47C1342.87 289.06 1346.19 288.67 1349.51 288.27C1352.83 287.87 1356.16 287.47 1359.48 287.08C1362.8 286.69 1366.12 286.29 1369.44 285.92C1372.76 285.54 1375.97 285.23 1379.41 284.83C1382.84 284.43 1386.06 284.15 1390.04 283.52C1394.02 282.9 1398.23 282.21 1403.28 281.07C1408.33 279.92 1414.26 278.43 1420.35 276.65C1426.44 274.86 1433.24 272.7 1439.82 270.36C1446.39 268.03 1453.14 265.41 1459.79 262.66C1466.44 259.91 1473.08 256.88 1479.72 253.88C1486.36 250.88 1493.01 247.66 1499.65 244.66C1506.29 241.66 1512.94 238.61 1519.58 235.88C1526.22 233.15 1532.87 230.54 1539.51 228.28C1546.16 226.02 1552.8 224.02 1559.44 222.3C1566.09 220.58 1572.73 219.17 1579.37 217.94C1586.02 216.7 1592.66 215.73 1599.3 214.89C1605.95 214.05 1612.69 213.39 1619.23 212.89C1625.77 212.4 1632.52 212.06 1638.54 211.92C1644.56 211.78 1650.37 211.82 1655.36 212.06C1660.34 212.3 1664.49 212.75 1668.44 213.36C1672.38 213.96 1675.6 214.78 1679.02 215.67C1682.45 216.57 1685.67 217.65 1688.99 218.71C1692.31 219.77 1695.63 220.97 1698.95 222.05C1702.28 223.13 1705.6 224.25 1708.92 225.16C1712.24 226.08 1715.56 226.93 1718.88 227.53C1722.21 228.13 1725.53 228.57 1728.85 228.78C1732.17 228.98 1735.49 229.01 1738.81 228.78C1742.14 228.55 1745.51 228.13 1748.78 227.41C1752.05 226.68 1755.45 225.66 1758.44 224.42C1761.43 223.17 1764.36 221.55 1766.72 219.93C1769.07 218.31 1770.95 216.46 1772.57 214.7C1774.19 212.95 1775.81 210.29 1776.46 209.41L1776.81 211.64C1776.37 213.09 1775.3 217.36 1774.15 220.3C1773.01 223.24 1771.69 226.33 1769.93 229.27C1768.17 232.21 1766.58 235.14 1763.6 237.93C1760.61 240.71 1757.97 243.23 1752.04 245.98C1746.1 248.72 1737.75 251.59 1727.99 254.4C1718.23 257.2 1704.46 260.37 1693.49 262.82C1682.51 265.28 1671.19 267.39 1662.14 269.12C1653.08 270.86 1646.31 271.95 1639.16 273.24C1632.01 274.52 1625.88 275.66 1619.23 276.85C1612.59 278.03 1605.95 279.24 1599.3 280.35C1592.66 281.46 1586.02 282.37 1579.37 283.51C1572.73 284.66 1566.09 285.66 1559.44 287.22C1552.8 288.79 1546.05 290.65 1539.51 292.89C1532.97 295.13 1526.22 297.98 1520.2 300.67C1514.18 303.35 1508.37 306.37 1503.39 309.02C1498.41 311.68 1494.25 314.19 1490.31 316.61C1486.36 319.03 1483.15 321.25 1479.72 323.56C1476.3 325.87 1473.08 328.16 1469.76 330.47C1466.43 332.79 1463.11 335.13 1459.79 337.45C1456.47 339.76 1453.15 342.12 1449.83 344.36C1446.5 346.6 1443.18 348.9 1439.86 350.9C1436.54 352.91 1433.22 354.88 1429.9 356.38C1426.57 357.89 1423.26 359.15 1419.93 359.93C1416.6 360.71 1413.28 361.03 1409.92 361.06C1406.57 361.09 1403.18 360.67 1399.79 360.11C1396.4 359.55 1393.07 358.74 1389.58 357.69C1386.08 356.63 1382.8 355.4 1378.83 353.81C1374.85 352.22 1370.69 350.25 1365.71 348.15C1360.72 346.05 1354.81 343.46 1348.89 341.21C1342.97 338.95 1336.12 336.5 1330.2 334.62C1324.29 332.75 1318.37 331.17 1313.39 329.98C1308.41 328.79 1304.25 328.13 1300.31 327.51C1296.36 326.88 1293.15 326.62 1289.72 326.23C1286.3 325.85 1283.08 325.57 1279.76 325.21C1276.43 324.84 1273.11 324.46 1269.79 324.05C1266.47 323.64 1263.1 323.17 1259.83 322.75C1256.55 322.32 1253.18 321.85 1250.11 321.52C1247.05 321.19 1244.11 320.93 1241.42 320.77C1238.73 320.61 1235.24 320.59 1234 320.55" stroke="#800080" stroke-width="5.0"/>
<path d="M1231.73 307.3C1232.45 306.67 1234.31 304.69 1236.02 303.53C1237.73 302.37 1239.61 301.29 1241.97 300.32C1244.33 299.35 1247.22 298.49 1250.2 297.71C1253.17 296.92 1256.56 296.23 1259.83 295.62C1263.09 295.01 1266.37 294.53 1269.79 294.06C1273.22 293.6 1276.43 293.25 1280.38 292.82C1284.32 292.38 1288.48 291.98 1293.46 291.45C1298.44 290.92 1304.25 290.29 1310.27 289.64C1316.29 288.99 1323.04 288.22 1329.58 287.54C1336.12 286.86 1342.97 286.16 1349.51 285.56C1356.05 284.97 1362.69 284.48 1368.82 283.99C1374.95 283.5 1380.66 283.2 1386.3 282.63C1391.94 282.07 1396.98 281.54 1402.66 280.59C1408.33 279.63 1414.15 278.42 1420.35 276.9C1426.54 275.38 1433.24 273.5 1439.82 271.47C1446.39 269.45 1453.14 267.11 1459.79 264.74C1466.44 262.37 1473.08 259.74 1479.72 257.24C1486.36 254.74 1493.01 252.11 1499.65 249.77C1506.29 247.42 1512.94 245.14 1519.58 243.16C1526.22 241.19 1532.87 239.43 1539.51 237.89C1546.16 236.36 1552.8 235.08 1559.44 233.95C1566.09 232.81 1572.73 231.9 1579.37 231.11C1586.02 230.31 1592.66 229.69 1599.3 229.19C1605.95 228.69 1612.59 228.32 1619.23 228.12C1625.88 227.91 1632.52 227.85 1639.16 227.97C1645.81 228.08 1652.45 228.4 1659.09 228.8C1665.74 229.2 1672.38 229.82 1679.02 230.36C1685.67 230.9 1692.41 231.56 1698.95 232.05C1705.49 232.54 1712.24 233.03 1718.26 233.31C1724.28 233.59 1730.09 233.78 1735.08 233.71C1740.06 233.64 1744.26 233.39 1748.16 232.87C1752.05 232.36 1755.34 231.55 1758.44 230.62C1761.53 229.69 1764.36 228.45 1766.72 227.31C1769.07 226.16 1770.95 224.89 1772.57 223.73C1774.19 222.58 1775.81 220.93 1776.46 220.37L1776.81 220.61C1776.37 221.89 1775.3 225.68 1774.15 228.27C1773.01 230.87 1772.2 233.52 1769.93 236.18C1767.67 238.84 1765.56 241.47 1760.55 244.23C1755.54 247 1748.34 249.97 1739.87 252.76C1731.4 255.56 1719.5 258.64 1709.74 260.99C1699.98 263.34 1689.76 265.28 1681.32 266.84C1672.88 268.4 1666.12 269.26 1659.09 270.35C1652.07 271.43 1645.81 272.31 1639.16 273.37C1632.52 274.43 1625.88 275.63 1619.23 276.71C1612.59 277.8 1605.95 278.89 1599.3 279.89C1592.66 280.89 1586.02 281.67 1579.37 282.7C1572.73 283.73 1566.09 284.66 1559.44 286.08C1552.8 287.5 1546.05 289.22 1539.51 291.21C1532.97 293.21 1526.22 295.72 1520.2 298.05C1514.18 300.37 1508.37 302.95 1503.39 305.16C1498.41 307.37 1494.25 309.4 1490.31 311.32C1486.36 313.24 1483.15 314.9 1479.72 316.68C1476.3 318.47 1473.08 320.21 1469.76 322.03C1466.43 323.84 1463.11 325.75 1459.79 327.58C1456.47 329.42 1453.15 331.33 1449.83 333.05C1446.5 334.77 1443.18 336.49 1439.86 337.88C1436.54 339.28 1433.22 340.57 1429.9 341.43C1426.57 342.3 1423.26 342.86 1419.93 343.05C1416.6 343.25 1413.28 342.99 1409.92 342.6C1406.57 342.22 1403.18 341.52 1399.79 340.77C1396.4 340.02 1392.97 339.11 1389.58 338.1C1386.19 337.09 1382.8 335.87 1379.45 334.71C1376.09 333.55 1372.87 332.23 1369.44 331.12C1366.01 330.01 1362.69 328.97 1358.85 328.04C1355.01 327.1 1350.76 326.27 1346.4 325.5C1342.04 324.73 1337.06 324.01 1332.7 323.41C1328.34 322.8 1324.08 322.31 1320.24 321.87C1316.4 321.43 1313.08 321.12 1309.65 320.75C1306.23 320.38 1303.01 320.09 1299.69 319.66C1296.36 319.23 1293.04 318.77 1289.72 318.17C1286.4 317.56 1283.08 316.8 1279.76 316.02C1276.43 315.24 1273.11 314.29 1269.79 313.47C1266.47 312.64 1263.1 311.76 1259.83 311.05C1256.55 310.34 1253.18 309.67 1250.11 309.19C1247.05 308.7 1244.11 308.37 1241.42 308.14C1238.73 307.91 1235.24 307.85 1234 307.8" stroke="#800000" stroke-width="5.0"/>
<path d="M1231.73 292.85C1234.86 292.21 1244.17 290.16 1250.54 289.02C1256.9 287.88 1263.37 286.87 1269.9 286.03C1276.43 285.19 1283.1 284.58 1289.72 283.97C1296.35 283.37 1303.01 282.9 1309.65 282.42C1316.29 281.94 1322.94 281.49 1329.58 281.11C1336.22 280.73 1342.97 280.39 1349.51 280.11C1356.05 279.84 1362.69 279.63 1368.82 279.45C1374.95 279.26 1380.66 279.17 1386.3 278.99C1391.94 278.81 1396.98 278.74 1402.66 278.34C1408.33 277.94 1414.15 277.47 1420.35 276.58C1426.54 275.68 1433.24 274.42 1439.82 272.96C1446.39 271.49 1453.14 269.6 1459.79 267.78C1466.44 265.96 1473.08 263.9 1479.72 262.02C1486.36 260.15 1493.01 258.25 1499.65 256.53C1506.29 254.81 1512.94 253.18 1519.58 251.72C1526.22 250.26 1532.87 248.93 1539.51 247.77C1546.16 246.61 1552.8 245.62 1559.44 244.76C1566.09 243.9 1572.73 243.21 1579.37 242.6C1586.02 242 1592.66 241.52 1599.3 241.11C1605.95 240.69 1612.59 240.36 1619.23 240.11C1625.88 239.87 1632.52 239.67 1639.16 239.65C1645.81 239.63 1652.45 239.71 1659.09 239.99C1665.74 240.27 1672.38 240.76 1679.02 241.33C1685.67 241.91 1692.41 242.75 1698.95 243.44C1705.49 244.12 1712.24 244.97 1718.26 245.44C1724.28 245.92 1730.09 246.29 1735.08 246.28C1740.06 246.26 1744.26 245.93 1748.16 245.34C1752.05 244.76 1755.34 243.81 1758.44 242.79C1761.53 241.77 1764.36 240.49 1766.72 239.24C1769.07 237.99 1770.95 236.63 1772.57 235.32C1774.19 234 1775.81 231.99 1776.46 231.33L1776.46 232.82C1775.03 234.52 1770.86 240.01 1767.88 243.03C1764.9 246.05 1761.89 248.74 1758.61 250.94C1755.32 253.13 1752.08 254.67 1748.16 256.2C1744.23 257.72 1740.06 258.86 1735.08 260.11C1730.09 261.35 1724.28 262.56 1718.26 263.67C1712.24 264.78 1705.49 265.85 1698.95 266.77C1692.41 267.7 1685.67 268.46 1679.02 269.21C1672.38 269.97 1665.74 270.6 1659.09 271.31C1652.45 272.01 1645.81 272.69 1639.16 273.42C1632.52 274.16 1625.88 274.91 1619.23 275.7C1612.59 276.49 1605.95 277.29 1599.3 278.16C1592.66 279.02 1586.02 279.88 1579.37 280.87C1572.73 281.87 1566.09 282.9 1559.44 284.14C1552.8 285.37 1546.05 286.78 1539.51 288.31C1532.97 289.83 1526.22 291.63 1520.2 293.29C1514.18 294.95 1508.37 296.71 1503.39 298.27C1498.41 299.84 1494.25 301.25 1490.31 302.7C1486.36 304.14 1483.15 305.48 1479.72 306.97C1476.3 308.45 1473.08 310.02 1469.76 311.6C1466.43 313.18 1463.11 314.89 1459.79 316.46C1456.47 318.03 1453.15 319.67 1449.83 321.03C1446.5 322.4 1443.18 323.72 1439.86 324.66C1436.54 325.59 1433.22 326.3 1429.9 326.64C1426.57 326.97 1423.26 326.92 1419.93 326.65C1416.6 326.38 1413.28 325.72 1409.92 325C1406.57 324.29 1403.18 323.31 1399.79 322.36C1396.4 321.41 1392.97 320.36 1389.58 319.31C1386.19 318.25 1382.8 317.18 1379.45 316.03C1376.09 314.88 1372.77 313.66 1369.44 312.41C1366.11 311.15 1362.8 309.75 1359.48 308.51C1356.16 307.27 1352.94 306.01 1349.51 304.96C1346.09 303.92 1342.87 303.04 1338.92 302.22C1334.98 301.41 1330.83 300.75 1325.84 300.07C1320.86 299.39 1315.05 298.75 1309.03 298.14C1303.01 297.54 1296.22 296.94 1289.72 296.43C1283.22 295.92 1276.43 295.46 1270.04 295.07C1263.66 294.68 1257.39 294.37 1251.39 294.1C1245.38 293.83 1236.9 293.56 1234 293.45" stroke="#808000" stroke-width="5.0"/>
<path d="M1231.73 286.87C1234.86 286.21 1244.17 284.04 1250.54 282.88C1256.9 281.73 1263.37 280.74 1269.9 279.95C1276.43 279.15 1283.1 278.61 1289.72 278.09C1296.35 277.57 1303.01 277.19 1309.65 276.81C1316.29 276.43 1322.94 276.09 1329.58 275.82C1336.22 275.54 1342.97 275.29 1349.51 275.15C1356.05 275.01 1362.69 274.98 1368.82 275C1374.95 275.02 1380.66 275.18 1386.3 275.27C1391.94 275.35 1396.98 275.52 1402.66 275.5C1408.33 275.48 1414.15 275.44 1420.35 275.12C1426.54 274.8 1433.24 274.29 1439.82 273.57C1446.39 272.84 1453.14 271.82 1459.79 270.75C1466.44 269.69 1473.08 268.4 1479.72 267.2C1486.36 266.01 1493.01 264.74 1499.65 263.59C1506.29 262.45 1512.94 261.34 1519.58 260.33C1526.22 259.32 1532.87 258.36 1539.51 257.51C1546.16 256.66 1552.8 255.88 1559.44 255.22C1566.09 254.57 1572.73 254.01 1579.37 253.59C1586.02 253.17 1592.66 252.88 1599.3 252.71C1605.95 252.53 1612.59 252.51 1619.23 252.56C1625.88 252.6 1632.52 252.78 1639.16 252.95C1645.81 253.13 1652.45 253.38 1659.09 253.59C1665.74 253.8 1672.38 254.03 1679.02 254.2C1685.67 254.37 1692.41 254.53 1698.95 254.59C1705.49 254.65 1712.24 254.67 1718.26 254.56C1724.28 254.45 1730.09 254.3 1735.08 253.94C1740.06 253.58 1744.26 253.11 1748.16 252.42C1752.05 251.72 1755.35 250.79 1758.44 249.77C1761.53 248.74 1764.36 247.46 1766.7 246.28C1769.03 245.09 1770.88 243.83 1772.45 242.67C1774.02 241.5 1775.53 239.86 1776.14 239.3L1776.14 239.79C1774.75 240.81 1770.69 244.07 1767.76 245.93C1764.83 247.79 1761.85 249.54 1758.59 250.96C1755.32 252.39 1752.07 253.49 1748.16 254.5C1744.24 255.51 1740.06 256.23 1735.08 257.01C1730.09 257.78 1724.28 258.46 1718.26 259.17C1712.24 259.89 1705.49 260.59 1698.95 261.3C1692.41 262.01 1685.67 262.72 1679.02 263.43C1672.38 264.15 1665.74 264.87 1659.09 265.58C1652.45 266.29 1645.81 266.98 1639.16 267.69C1632.52 268.41 1625.88 269.1 1619.23 269.85C1612.59 270.6 1605.95 271.37 1599.3 272.2C1592.66 273.04 1586.02 273.91 1579.37 274.87C1572.73 275.83 1566.09 276.84 1559.44 277.96C1552.8 279.07 1546.16 280.28 1539.51 281.56C1532.87 282.83 1526.22 284.21 1519.58 285.59C1512.94 286.98 1506.19 288.48 1499.65 289.87C1493.11 291.25 1486.36 292.74 1480.34 293.89C1474.32 295.04 1468.51 296.1 1463.53 296.77C1458.55 297.43 1454.39 297.79 1450.45 297.87C1446.5 297.96 1443.29 297.72 1439.86 297.3C1436.43 296.88 1433.22 296.15 1429.9 295.35C1426.57 294.54 1423.26 293.41 1419.93 292.48C1416.6 291.55 1413.38 290.49 1409.92 289.78C1406.46 289.07 1403.18 288.57 1399.17 288.2C1395.16 287.82 1390.89 287.71 1385.84 287.54C1380.79 287.38 1374.92 287.27 1368.86 287.2C1362.81 287.13 1356.06 287.09 1349.51 287.12C1342.97 287.15 1336.22 287.28 1329.58 287.4C1322.94 287.52 1316.29 287.71 1309.65 287.84C1303.01 287.97 1296.32 288.1 1289.72 288.18C1283.12 288.26 1276.43 288.3 1270.04 288.3C1263.66 288.3 1257.39 288.25 1251.39 288.18C1245.38 288.11 1236.9 287.92 1234 287.87" stroke="#2f6da8" stroke-width="5.0"/>
</g>
<rect x="1167.7" y="29.6" width="810.4" height="582" fill="none" stroke="#000" stroke-width="4.8"/>
<line x1="1167.7" y1="611.6" x2="1167.7" y2="623.2" stroke="#000" stroke-width="4.5" stroke-linecap="round"/>
<line x1="1235.23" y1="611.6" x2="1235.23" y2="623.2" stroke="#000" stroke-width="4.5" stroke-linecap="round"/>
<line x1="1302.77" y1="611.6" x2="1302.77" y2="623.2" stroke="#000" stroke-width="4.5" stroke-linecap="round"/>
<line x1="1370.3" y1="611.6" x2="1370.3" y2="623.2" stroke="#000" stroke-width="4.5" stroke-linecap="round"/>
<line x1="1437.83" y1="611.6" x2="1437.83" y2="623.2" stroke="#000" stroke-width="4.5" stroke-linecap="round"/>
<line x1="1505.37" y1="611.6" x2="1505.37" y2="623.2" stroke="#000" stroke-width="4.5" stroke-linecap="round"/>
<line x1="1572.9" y1="611.6" x2="1572.9" y2="623.2" stroke="#000" stroke-width="4.5" stroke-linecap="round"/>
<line x1="1640.43" y1="611.6" x2="1640.43" y2="623.2" stroke="#000" stroke-width="4.5" stroke-linecap="round"/>
<line x1="1707.97" y1="611.6" x2="1707.97" y2="623.2" stroke="#000" stroke-width="4.5" stroke-linecap="round"/>
<line x1="1775.5" y1="611.6" x2="1775.5" y2="623.2" stroke="#000" stroke-width="4.5" stroke-linecap="round"/>
<line x1="1843.03" y1="611.6" x2="1843.03" y2="623.2" stroke="#000" stroke-width="4.5" stroke-linecap="round"/>
<line x1="1910.57" y1="611.6" x2="1910.57" y2="623.2" stroke="#000" stroke-width="4.5" stroke-linecap="round"/>
<line x1="1978.1" y1="611.6" x2="1978.1" y2="623.2" stroke="#000" stroke-width="4.5" stroke-linecap="round"/>
<line x1="1201.47" y1="611.6" x2="1201.47" y2="617.6" stroke="#000" stroke-width="4.5" stroke-linecap="round"/>
<line x1="1269" y1="611.6" x2="1269" y2="617.6" stroke="#000" stroke-width="4.5" stroke-linecap="round"/>
<line x1="1336.53" y1="611.6" x2="1336.53" y2="617.6" stroke="#000" stroke-width="4.5" stroke-linecap="round"/>
<line x1="1404.07" y1="611.6" x2="1404.07" y2="617.6" stroke="#000" stroke-width="4.5" stroke-linecap="round"/>
<line x1="1471.6" y1="611.6" x2="1471.6" y2="617.6" stroke="#000" stroke-width="4.5" stroke-linecap="round"/>
<line x1="1539.13" y1="611.6" x2="1539.13" y2="617.6" stroke="#000" stroke-width="4.5" stroke-linecap="round"/>
<line x1="1606.67" y1="611.6" x2="1606.67" y2="617.6" stroke="#000" stroke-width="4.5" stroke-linecap="round"/>
<line x1="1674.2" y1="611.6" x2="1674.2" y2="617.6" stroke="#000" stroke-width="4.5" stroke-linecap="round"/>
<line x1="1741.73" y1="611.6" x2="1741.73" y2="617.6" stroke="#000" stroke-width="4.5" stroke-linecap="round"/>
<line x1="1809.27" y1="611.6" x2="1809.27" y2="617.6" stroke="#000" stroke-width="4.5" stroke-linecap="round"/>
<line x1="1876.8" y1="611.6" x2="1876.8" y2="617.6" stroke="#000" stroke-width="4.5" stroke-linecap="round"/>
<line x1="1944.33" y1="611.6" x2="1944.33" y2="617.6" stroke="#000" stroke-width="4.5" stroke-linecap="round"/>
<line x1="1167.7" y1="611.6" x2="1155.9" y2="611.6" stroke="#000" stroke-width="4.5" stroke-linecap="round"/>
<line x1="1167.7" y1="528.46" x2="1155.9" y2="528.46" stroke="#000" stroke-width="4.5" stroke-linecap="round"/>
<line x1="1167.7" y1="445.31" x2="1155.9" y2="445.31" stroke="#000" stroke-width="4.5" stroke-linecap="round"/>
<line x1="1167.7" y1="362.17" x2="1155.9" y2="362.17" stroke="#000" stroke-width="4.5" stroke-linecap="round"/>
<line x1="1167.7" y1="279.03" x2="1155.9" y2="279.03" stroke="#000" stroke-width="4.5" stroke-linecap="round"/>
<line x1="1167.7" y1="195.89" x2="1155.9" y2="195.89" stroke="#000" stroke-width="4.5" stroke-linecap="round"/>
<line x1="1167.7" y1="112.74" x2="1155.9" y2="112.74" stroke="#000" stroke-width="4.5" stroke-linecap="round"/>
<line x1="1167.7" y1="29.6" x2="1155.9" y2="29.6" stroke="#000" stroke-width="4.5" stroke-linecap="round"/>
<line x1="1167.7" y1="570.03" x2="1162.1" y2="570.03" stroke="#000" stroke-width="4.5" stroke-linecap="round"/>
<line x1="1167.7" y1="486.89" x2="1162.1" y2="486.89" stroke="#000" stroke-width="4.5" stroke-linecap="round"/>
<line x1="1167.7" y1="403.74" x2="1162.1" y2="403.74" stroke="#000" stroke-width="4.5" stroke-linecap="round"/>
<line x1="1167.7" y1="320.6" x2="1162.1" y2="320.6" stroke="#000" stroke-width="4.5" stroke-linecap="round"/>
<line x1="1167.7" y1="237.46" x2="1162.1" y2="237.46" stroke="#000" stroke-width="4.5" stroke-linecap="round"/>
<line x1="1167.7" y1="154.31" x2="1162.1" y2="154.31" stroke="#000" stroke-width="4.5" stroke-linecap="round"/>
<line x1="1167.7" y1="71.17" x2="1162.1" y2="71.17" stroke="#000" stroke-width="4.5" stroke-linecap="round"/>
<text transform="translate(1068.04 621.15) scale(1.0099 1)" font-family='"Liberation Serif", "DejaVu Serif", serif' font-weight="bold" font-size="37.35" text-anchor="start" >-0.20</text>
<text transform="translate(1067.66 538.01) scale(1.0099 1)" font-family='"Liberation Serif", "DejaVu Serif", serif' font-weight="bold" font-size="37.35" text-anchor="start" >-0.15</text>
<text transform="translate(1068.04 454.87) scale(1.0099 1)" font-family='"Liberation Serif", "DejaVu Serif", serif' font-weight="bold" font-size="37.35" text-anchor="start" >-0.10</text>
<text transform="translate(1067.66 371.72) scale(1.0099 1)" font-family='"Liberation Serif", "DejaVu Serif", serif' font-weight="bold" font-size="37.35" text-anchor="start" >-0.05</text>
<text transform="translate(1080.49 288.58) scale(1.0099 1)" font-family='"Liberation Serif", "DejaVu Serif", serif' font-weight="bold" font-size="37.35" text-anchor="start" >0.00</text>
<text transform="translate(1080.49 205.44) scale(1.0099 1)" font-family='"Liberation Serif", "DejaVu Serif", serif' font-weight="bold" font-size="37.35" text-anchor="start" >0.05</text>
<text transform="translate(1080.49 122.3) scale(1.0099 1)" font-family='"Liberation Serif", "DejaVu Serif", serif' font-weight="bold" font-size="37.35" text-anchor="start" >0.10</text>
<text transform="translate(1080.49 39.15) scale(1.0099 1)" font-family='"Liberation Serif", "DejaVu Serif", serif' font-weight="bold" font-size="37.35" text-anchor="start" >0.15</text>
<text transform="translate(1144.12 658.8) scale(1.0099 1)" font-family='"Liberation Serif", "DejaVu Serif", serif' font-weight="bold" font-size="37.35" text-anchor="start" >0.2</text>
<text transform="translate(1211.47 658.8) scale(1.0099 1)" font-family='"Liberation Serif", "DejaVu Serif", serif' font-weight="bold" font-size="37.35" text-anchor="start" >0.3</text>
<text transform="translate(1278.81 658.8) scale(1.0099 1)" font-family='"Liberation Serif", "DejaVu Serif", serif' font-weight="bold" font-size="37.35" text-anchor="start" >0.4</text>
<text transform="translate(1346.72 658.8) scale(1.0099 1)" font-family='"Liberation Serif", "DejaVu Serif", serif' font-weight="bold" font-size="37.35" text-anchor="start" >0.5</text>
<text transform="translate(1414.07 658.8) scale(1.0099 1)" font-family='"Liberation Serif", "DejaVu Serif", serif' font-weight="bold" font-size="37.35" text-anchor="start" >0.6</text>
<text transform="translate(1481.41 658.8) scale(1.0099 1)" font-family='"Liberation Serif", "DejaVu Serif", serif' font-weight="bold" font-size="37.35" text-anchor="start" >0.7</text>
<text transform="translate(1549.13 658.8) scale(1.0099 1)" font-family='"Liberation Serif", "DejaVu Serif", serif' font-weight="bold" font-size="37.35" text-anchor="start" >0.8</text>
<text transform="translate(1616.86 658.8) scale(1.0099 1)" font-family='"Liberation Serif", "DejaVu Serif", serif' font-weight="bold" font-size="37.35" text-anchor="start" >0.9</text>
<text transform="translate(1683.63 658.8) scale(1.0099 1)" font-family='"Liberation Serif", "DejaVu Serif", serif' font-weight="bold" font-size="37.35" text-anchor="start" >1.0</text>
<text transform="translate(1751.36 658.8) scale(1.0099 1)" font-family='"Liberation Serif", "DejaVu Serif", serif' font-weight="bold" font-size="37.35" text-anchor="start" >1.1</text>
<text transform="translate(1818.7 658.8) scale(1.0099 1)" font-family='"Liberation Serif", "DejaVu Serif", serif' font-weight="bold" font-size="37.35" text-anchor="start" >1.2</text>
<text transform="translate(1886.05 658.8) scale(1.0099 1)" font-family='"Liberation Serif", "DejaVu Serif", serif' font-weight="bold" font-size="37.35" text-anchor="start" >1.3</text>
<text transform="translate(1953.39 658.8) scale(1.0099 1)" font-family='"Liberation Serif", "DejaVu Serif", serif' font-weight="bold" font-size="37.35" text-anchor="start" >1.4</text>
<text transform="translate(1458.11 716.4) scale(1.0058 1)" font-family='"Liberation Serif", "DejaVu Serif", serif' font-weight="bold" font-size="49.04" text-anchor="start" >Voltage(V)</text>
<text transform="translate(1050.4 450.37) rotate(-90) scale(0.9248 1)" font-family='"Liberation Serif", "DejaVu Serif", serif' font-weight="bold" font-size="51.25" text-anchor="start" >Current (mA)</text>
<text transform="translate(1272.47 117.5) scale(1.0095 1)" font-family='"Liberation Serif", "DejaVu Serif", serif' font-weight="bold" font-size="55.35" text-anchor="start" >2D V<tspan font-size="58%" dy="0.67em">2</tspan><tspan dy="-0.389em">O</tspan><tspan font-size="58%" dy="0.67em">5</tspan></text>
<line x1="1787" y1="239.9" x2="1857.2" y2="239.9" stroke="#000000" stroke-width="5.2" stroke-linecap="round"/>
<text transform="translate(1864.56 251.2) scale(0.9110 1)" font-family='"Liberation Serif", "DejaVu Serif", serif' font-weight="bold" font-size="34.85" text-anchor="start" >10 mV/s</text>
<line x1="1787" y1="279" x2="1857.2" y2="279" stroke="#ff0000" stroke-width="5.2" stroke-linecap="round"/>
<text transform="translate(1866.15 290.3) scale(0.9110 1)" font-family='"Liberation Serif", "DejaVu Serif", serif' font-weight="bold" font-size="34.85" text-anchor="start" >9 mV/s</text>
<line x1="1787" y1="318.1" x2="1857.2" y2="318.1" stroke="#0000ff" stroke-width="5.2" stroke-linecap="round"/>
<text transform="translate(1866.15 329.4) scale(0.9110 1)" font-family='"Liberation Serif", "DejaVu Serif", serif' font-weight="bold" font-size="34.85" text-anchor="start" >8 mV/s</text>
<line x1="1787" y1="357.2" x2="1857.2" y2="357.2" stroke="#ff00ff" stroke-width="5.2" stroke-linecap="round"/>
<text transform="translate(1865.2 368.5) scale(0.9110 1)" font-family='"Liberation Serif", "DejaVu Serif", serif' font-weight="bold" font-size="34.85" text-anchor="start" >7 mV/s</text>
<line x1="1787" y1="396.3" x2="1857.2" y2="396.3" stroke="#000080" stroke-width="5.2" stroke-linecap="round"/>
<text transform="translate(1866.15 407.6) scale(0.9110 1)" font-family='"Liberation Serif", "DejaVu Serif", serif' font-weight="bold" font-size="34.85" text-anchor="start" >6 mV/s</text>
<line x1="1787" y1="435.4" x2="1857.2" y2="435.4" stroke="#8000ff" stroke-width="5.2" stroke-linecap="round"/>
<text transform="translate(1865.83 446.7) scale(0.9110 1)" font-family='"Liberation Serif", "DejaVu Serif", serif' font-weight="bold" font-size="34.85" text-anchor="start" >5 mV/s</text>
<line x1="1787" y1="474.5" x2="1857.2" y2="474.5" stroke="#800080" stroke-width="5.2" stroke-linecap="round"/>
<text transform="translate(1866.78 485.8) scale(0.9110 1)" font-family='"Liberation Serif", "DejaVu Serif", serif' font-weight="bold" font-size="34.85" text-anchor="start" >4 mV/s</text>
<line x1="1787" y1="513.6" x2="1857.2" y2="513.6" stroke="#800000" stroke-width="5.2" stroke-linecap="round"/>
<text transform="translate(1865.83 524.9) scale(0.9110 1)" font-family='"Liberation Serif", "DejaVu Serif", serif' font-weight="bold" font-size="34.85" text-anchor="start" >3 mV/s</text>
<line x1="1787" y1="552.7" x2="1857.2" y2="552.7" stroke="#808000" stroke-width="5.2" stroke-linecap="round"/>
<text transform="translate(1865.83 564) scale(0.9110 1)" font-family='"Liberation Serif", "DejaVu Serif", serif' font-weight="bold" font-size="34.85" text-anchor="start" >2 mV/s</text>
<line x1="1787" y1="591.8" x2="1857.2" y2="591.8" stroke="#2f6da8" stroke-width="5.2" stroke-linecap="round"/>
<text transform="translate(1864.56 603.1) scale(0.9110 1)" font-family='"Liberation Serif", "DejaVu Serif", serif' font-weight="bold" font-size="34.85" text-anchor="start" >1 mV/s</text>
<text transform="translate(1010.69 73.8) scale(1.0076 1)" font-family='"Liberation Sans", "DejaVu Sans", sans-serif' font-weight="normal" font-size="71.23" text-anchor="start" >b</text>
<line x1="222.8" y1="913.88" x2="662.8" y2="874.53" stroke="#000" stroke-width="2.2" stroke-linecap="butt"/>
<line x1="222.8" y1="1154.75" x2="662.8" y2="1257.88" stroke="#ee3b44" stroke-width="2.2" stroke-linecap="butt"/>
<rect x="217.3" y="921.27" width="11" height="11" fill="#000"/>
<rect x="327.3" y="856.81" width="11" height="11" fill="#000"/>
<rect x="437.3" y="913.13" width="11" height="11" fill="#000"/>
<rect x="547.3" y="898.2" width="11" height="11" fill="#000"/>
<rect x="657.3" y="852.74" width="11" height="11" fill="#000"/>
<circle cx="222.8" cy="1157.46" r="6" fill="#ee3b44"/>
<circle cx="332.8" cy="1186.64" r="6" fill="#ee3b44"/>
<circle cx="442.8" cy="1202.92" r="6" fill="#ee3b44"/>
<circle cx="552.8" cy="1216.49" r="6" fill="#ee3b44"/>
<circle cx="662.8" cy="1268.74" r="6" fill="#ee3b44"/>
<rect x="168.6" y="796.6" width="549.2" height="509.4" fill="none" stroke="#000" stroke-width="4.6"/>
<line x1="222.8" y1="1306" x2="222.8" y2="1314.2" stroke="#000" stroke-width="4.3" stroke-linecap="round"/>
<line x1="332.8" y1="1306" x2="332.8" y2="1314.2" stroke="#000" stroke-width="4.3" stroke-linecap="round"/>
<line x1="442.8" y1="1306" x2="442.8" y2="1314.2" stroke="#000" stroke-width="4.3" stroke-linecap="round"/>
<line x1="552.8" y1="1306" x2="552.8" y2="1314.2" stroke="#000" stroke-width="4.3" stroke-linecap="round"/>
<line x1="662.8" y1="1306" x2="662.8" y2="1314.2" stroke="#000" stroke-width="4.3" stroke-linecap="round"/>
<line x1="167.8" y1="1306" x2="167.8" y2="1309.8" stroke="#000" stroke-width="4.3" stroke-linecap="round"/>
<line x1="277.8" y1="1306" x2="277.8" y2="1309.8" stroke="#000" stroke-width="4.3" stroke-linecap="round"/>
<line x1="387.8" y1="1306" x2="387.8" y2="1309.8" stroke="#000" stroke-width="4.3" stroke-linecap="round"/>
<line x1="497.8" y1="1306" x2="497.8" y2="1309.8" stroke="#000" stroke-width="4.3" stroke-linecap="round"/>
<line x1="607.8" y1="1306" x2="607.8" y2="1309.8" stroke="#000" stroke-width="4.3" stroke-linecap="round"/>
<line x1="717.8" y1="1306" x2="717.8" y2="1309.8" stroke="#000" stroke-width="4.3" stroke-linecap="round"/>
<line x1="168.6" y1="1271.45" x2="159" y2="1271.45" stroke="#000" stroke-width="4.3" stroke-linecap="round"/>
<line x1="168.6" y1="1203.6" x2="159" y2="1203.6" stroke="#000" stroke-width="4.3" stroke-linecap="round"/>
<line x1="168.6" y1="1135.75" x2="159" y2="1135.75" stroke="#000" stroke-width="4.3" stroke-linecap="round"/>
<line x1="168.6" y1="1067.9" x2="159" y2="1067.9" stroke="#000" stroke-width="4.3" stroke-linecap="round"/>
<line x1="168.6" y1="1000.05" x2="159" y2="1000.05" stroke="#000" stroke-width="4.3" stroke-linecap="round"/>
<line x1="168.6" y1="932.2" x2="159" y2="932.2" stroke="#000" stroke-width="4.3" stroke-linecap="round"/>
<line x1="168.6" y1="864.35" x2="159" y2="864.35" stroke="#000" stroke-width="4.3" stroke-linecap="round"/>
<line x1="168.6" y1="796.5" x2="159" y2="796.5" stroke="#000" stroke-width="4.3" stroke-linecap="round"/>
<line x1="168.6" y1="1305.38" x2="163.4" y2="1305.38" stroke="#000" stroke-width="4.3" stroke-linecap="round"/>
<line x1="168.6" y1="1237.53" x2="163.4" y2="1237.53" stroke="#000" stroke-width="4.3" stroke-linecap="round"/>
<line x1="168.6" y1="1169.67" x2="163.4" y2="1169.67" stroke="#000" stroke-width="4.3" stroke-linecap="round"/>
<line x1="168.6" y1="1101.83" x2="163.4" y2="1101.83" stroke="#000" stroke-width="4.3" stroke-linecap="round"/>
<line x1="168.6" y1="1033.97" x2="163.4" y2="1033.97" stroke="#000" stroke-width="4.3" stroke-linecap="round"/>
<line x1="168.6" y1="966.12" x2="163.4" y2="966.12" stroke="#000" stroke-width="4.3" stroke-linecap="round"/>
<line x1="168.6" y1="898.28" x2="163.4" y2="898.28" stroke="#000" stroke-width="4.3" stroke-linecap="round"/>
<line x1="168.6" y1="830.42" x2="163.4" y2="830.42" stroke="#000" stroke-width="4.3" stroke-linecap="round"/>
<text transform="translate(48.62 1283.46) scale(0.9466 1)" font-family='"Liberation Serif", "DejaVu Serif", serif' font-weight="bold" font-size="42.21" text-anchor="start" >-0.015</text>
<text transform="translate(49.02 1215.61) scale(0.9466 1)" font-family='"Liberation Serif", "DejaVu Serif", serif' font-weight="bold" font-size="42.21" text-anchor="start" >-0.010</text>
<text transform="translate(48.62 1147.76) scale(0.9466 1)" font-family='"Liberation Serif", "DejaVu Serif", serif' font-weight="bold" font-size="42.21" text-anchor="start" >-0.005</text>
<text transform="translate(62.2 1079.91) scale(0.9466 1)" font-family='"Liberation Serif", "DejaVu Serif", serif' font-weight="bold" font-size="42.21" text-anchor="start" >0.000</text>
<text transform="translate(62.2 1012.06) scale(0.9466 1)" font-family='"Liberation Serif", "DejaVu Serif", serif' font-weight="bold" font-size="42.21" text-anchor="start" >0.005</text>
<text transform="translate(62.2 944.21) scale(0.9466 1)" font-family='"Liberation Serif", "DejaVu Serif", serif' font-weight="bold" font-size="42.21" text-anchor="start" >0.010</text>
<text transform="translate(62.2 876.36) scale(0.9466 1)" font-family='"Liberation Serif", "DejaVu Serif", serif' font-weight="bold" font-size="42.21" text-anchor="start" >0.015</text>
<text transform="translate(62.2 808.51) scale(0.9466 1)" font-family='"Liberation Serif", "DejaVu Serif", serif' font-weight="bold" font-size="42.21" text-anchor="start" >0.020</text>
<text transform="translate(213.21 1353) scale(0.9466 1)" font-family='"Liberation Serif", "DejaVu Serif", serif' font-weight="bold" font-size="42.21" text-anchor="start" >6</text>
<text transform="translate(322.41 1353) scale(0.9466 1)" font-family='"Liberation Serif", "DejaVu Serif", serif' font-weight="bold" font-size="42.21" text-anchor="start" >7</text>
<text transform="translate(433.21 1353) scale(0.9466 1)" font-family='"Liberation Serif", "DejaVu Serif", serif' font-weight="bold" font-size="42.21" text-anchor="start" >8</text>
<text transform="translate(543.41 1353) scale(0.9466 1)" font-family='"Liberation Serif", "DejaVu Serif", serif' font-weight="bold" font-size="42.21" text-anchor="start" >9</text>
<text transform="translate(642.42 1353) scale(0.9466 1)" font-family='"Liberation Serif", "DejaVu Serif", serif' font-weight="bold" font-size="42.21" text-anchor="start" >10</text>
<text transform="translate(247.75 1399.4) scale(0.9545 1)" font-family='"Liberation Serif", "DejaVu Serif", serif' font-weight="bold" font-size="55.6" text-anchor="start" >Scan rate (mV/s)</text>
<text transform="translate(41.1 1099.32) rotate(-90) scale(0.9501 1)" font-family='"Liberation Serif", "DejaVu Serif", serif' font-weight="bold" font-size="56.83" text-anchor="start" >Ic (mA)</text>
<text transform="translate(191.94 841.8) scale(0.9956 1)" font-family='"Liberation Serif", "DejaVu Serif", serif' font-weight="bold" font-size="53.14" text-anchor="start" >Bulk V<tspan font-size="60%" dy="0.66em">2</tspan><tspan dy="-0.396em">O</tspan><tspan font-size="60%" dy="0.66em">5</tspan></text>
<text transform="translate(315.86 1015.9) scale(1.0756 1)" font-family='"Liberation Serif", "DejaVu Serif", serif' font-weight="bold" font-size="38" text-anchor="start" >C<tspan font-size="60%" dy="0.67em">dl</tspan><tspan dy="-0.402em">= 1.29 mF</tspan></text>
<text transform="translate(315.92 1078.7) scale(1.0407 1)" font-family='"Liberation Serif", "DejaVu Serif", serif' font-weight="bold" font-size="38" text-anchor="start" >(for 570 μg of sample)</text>
<text transform="translate(4.44 809.6) scale(1.0836 1)" font-family='"Liberation Sans", "DejaVu Sans", sans-serif' font-weight="normal" font-size="70.61" text-anchor="start" >c</text>
<line x1="927.6" y1="1007.12" x2="1347" y2="840.47" stroke="#000" stroke-width="2.4" stroke-linecap="butt"/>
<line x1="927.6" y1="1086" x2="1347" y2="1251.53" stroke="#ee3b44" stroke-width="2.4" stroke-linecap="butt"/>
<rect x="922.6" y="995.7" width="10" height="10.6" fill="#000"/>
<rect x="969.2" y="977.37" width="10" height="10.6" fill="#000"/>
<rect x="1015.8" y="959.6" width="10" height="10.6" fill="#000"/>
<rect x="1062.4" y="949.6" width="10" height="10.6" fill="#000"/>
<rect x="1109" y="929.6" width="10" height="10.6" fill="#000"/>
<rect x="1155.6" y="917.38" width="10" height="10.6" fill="#000"/>
<rect x="1202.2" y="900.71" width="10" height="10.6" fill="#000"/>
<rect x="1248.8" y="874.61" width="10" height="10.6" fill="#000"/>
<rect x="1295.4" y="846.28" width="10" height="10.6" fill="#000"/>
<rect x="1342" y="822.94" width="10" height="10.6" fill="#000"/>
<ellipse cx="927.6" cy="1092.66" rx="5.3" ry="5.7" fill="#ee3b44"/>
<ellipse cx="974.2" cy="1109.88" rx="5.3" ry="5.7" fill="#ee3b44"/>
<ellipse cx="1020.8" cy="1120.99" rx="5.3" ry="5.7" fill="#ee3b44"/>
<ellipse cx="1067.4" cy="1139.32" rx="5.3" ry="5.7" fill="#ee3b44"/>
<ellipse cx="1114" cy="1151.55" rx="5.3" ry="5.7" fill="#ee3b44"/>
<ellipse cx="1160.6" cy="1164.88" rx="5.3" ry="5.7" fill="#ee3b44"/>
<ellipse cx="1207.2" cy="1193.21" rx="5.3" ry="5.7" fill="#ee3b44"/>
<ellipse cx="1253.8" cy="1210.98" rx="5.3" ry="5.7" fill="#ee3b44"/>
<ellipse cx="1300.4" cy="1238.76" rx="5.3" ry="5.7" fill="#ee3b44"/>
<ellipse cx="1347" cy="1260.98" rx="5.3" ry="5.7" fill="#ee3b44"/>
<rect x="881" y="796.8" width="512.2" height="499.3" fill="none" stroke="#000" stroke-width="4.4"/>
<line x1="881" y1="1296.1" x2="881" y2="1305.5" stroke="#000" stroke-width="4" stroke-linecap="round"/>
<line x1="927.6" y1="1296.1" x2="927.6" y2="1305.5" stroke="#000" stroke-width="4" stroke-linecap="round"/>
<line x1="974.2" y1="1296.1" x2="974.2" y2="1305.5" stroke="#000" stroke-width="4" stroke-linecap="round"/>
<line x1="1020.8" y1="1296.1" x2="1020.8" y2="1305.5" stroke="#000" stroke-width="4" stroke-linecap="round"/>
<line x1="1067.4" y1="1296.1" x2="1067.4" y2="1305.5" stroke="#000" stroke-width="4" stroke-linecap="round"/>
<line x1="1114" y1="1296.1" x2="1114" y2="1305.5" stroke="#000" stroke-width="4" stroke-linecap="round"/>
<line x1="1160.6" y1="1296.1" x2="1160.6" y2="1305.5" stroke="#000" stroke-width="4" stroke-linecap="round"/>
<line x1="1207.2" y1="1296.1" x2="1207.2" y2="1305.5" stroke="#000" stroke-width="4" stroke-linecap="round"/>
<line x1="1253.8" y1="1296.1" x2="1253.8" y2="1305.5" stroke="#000" stroke-width="4" stroke-linecap="round"/>
<line x1="1300.4" y1="1296.1" x2="1300.4" y2="1305.5" stroke="#000" stroke-width="4" stroke-linecap="round"/>
<line x1="1347" y1="1296.1" x2="1347" y2="1305.5" stroke="#000" stroke-width="4" stroke-linecap="round"/>
<line x1="1393.6" y1="1296.1" x2="1393.6" y2="1305.5" stroke="#000" stroke-width="4" stroke-linecap="round"/>
<line x1="904.3" y1="1296.1" x2="904.3" y2="1300.1" stroke="#000" stroke-width="4" stroke-linecap="round"/>
<line x1="950.9" y1="1296.1" x2="950.9" y2="1300.1" stroke="#000" stroke-width="4" stroke-linecap="round"/>
<line x1="997.5" y1="1296.1" x2="997.5" y2="1300.1" stroke="#000" stroke-width="4" stroke-linecap="round"/>
<line x1="1044.1" y1="1296.1" x2="1044.1" y2="1300.1" stroke="#000" stroke-width="4" stroke-linecap="round"/>
<line x1="1090.7" y1="1296.1" x2="1090.7" y2="1300.1" stroke="#000" stroke-width="4" stroke-linecap="round"/>
<line x1="1137.3" y1="1296.1" x2="1137.3" y2="1300.1" stroke="#000" stroke-width="4" stroke-linecap="round"/>
<line x1="1183.9" y1="1296.1" x2="1183.9" y2="1300.1" stroke="#000" stroke-width="4" stroke-linecap="round"/>
<line x1="1230.5" y1="1296.1" x2="1230.5" y2="1300.1" stroke="#000" stroke-width="4" stroke-linecap="round"/>
<line x1="1277.1" y1="1296.1" x2="1277.1" y2="1300.1" stroke="#000" stroke-width="4" stroke-linecap="round"/>
<line x1="1323.7" y1="1296.1" x2="1323.7" y2="1300.1" stroke="#000" stroke-width="4" stroke-linecap="round"/>
<line x1="1370.3" y1="1296.1" x2="1370.3" y2="1300.1" stroke="#000" stroke-width="4" stroke-linecap="round"/>
<line x1="881" y1="1268.2" x2="872.5" y2="1268.2" stroke="#000" stroke-width="4.4" stroke-linecap="round"/>
<line x1="881" y1="1212.65" x2="872.5" y2="1212.65" stroke="#000" stroke-width="4.4" stroke-linecap="round"/>
<line x1="881" y1="1157.1" x2="872.5" y2="1157.1" stroke="#000" stroke-width="4.4" stroke-linecap="round"/>
<line x1="881" y1="1101.55" x2="872.5" y2="1101.55" stroke="#000" stroke-width="4.4" stroke-linecap="round"/>
<line x1="881" y1="1046" x2="872.5" y2="1046" stroke="#000" stroke-width="4.4" stroke-linecap="round"/>
<line x1="881" y1="990.45" x2="872.5" y2="990.45" stroke="#000" stroke-width="4.4" stroke-linecap="round"/>
<line x1="881" y1="934.9" x2="872.5" y2="934.9" stroke="#000" stroke-width="4.4" stroke-linecap="round"/>
<line x1="881" y1="879.35" x2="872.5" y2="879.35" stroke="#000" stroke-width="4.4" stroke-linecap="round"/>
<line x1="881" y1="823.8" x2="872.5" y2="823.8" stroke="#000" stroke-width="4.4" stroke-linecap="round"/>
<line x1="881" y1="1295.97" x2="877" y2="1295.97" stroke="#000" stroke-width="4.4" stroke-linecap="round"/>
<line x1="881" y1="1240.42" x2="877" y2="1240.42" stroke="#000" stroke-width="4.4" stroke-linecap="round"/>
<line x1="881" y1="1184.88" x2="877" y2="1184.88" stroke="#000" stroke-width="4.4" stroke-linecap="round"/>
<line x1="881" y1="1129.33" x2="877" y2="1129.33" stroke="#000" stroke-width="4.4" stroke-linecap="round"/>
<line x1="881" y1="1073.78" x2="877" y2="1073.78" stroke="#000" stroke-width="4.4" stroke-linecap="round"/>
<line x1="881" y1="1018.23" x2="877" y2="1018.23" stroke="#000" stroke-width="4.4" stroke-linecap="round"/>
<line x1="881" y1="962.67" x2="877" y2="962.67" stroke="#000" stroke-width="4.4" stroke-linecap="round"/>
<line x1="881" y1="907.12" x2="877" y2="907.12" stroke="#000" stroke-width="4.4" stroke-linecap="round"/>
<line x1="881" y1="851.58" x2="877" y2="851.58" stroke="#000" stroke-width="4.4" stroke-linecap="round"/>
<line x1="881" y1="796.02" x2="877" y2="796.02" stroke="#000" stroke-width="4.4" stroke-linecap="round"/>
<text transform="translate(790.5 1279.77) scale(0.8604 1)" font-family='"Liberation Serif", "DejaVu Serif", serif' font-weight="bold" font-size="41.47" text-anchor="start" >-0.04</text>
<text transform="translate(790.86 1224.22) scale(0.8604 1)" font-family='"Liberation Serif", "DejaVu Serif", serif' font-weight="bold" font-size="41.47" text-anchor="start" >-0.03</text>
<text transform="translate(791.21 1168.67) scale(0.8604 1)" font-family='"Liberation Serif", "DejaVu Serif", serif' font-weight="bold" font-size="41.47" text-anchor="start" >-0.02</text>
<text transform="translate(791.57 1113.12) scale(0.8604 1)" font-family='"Liberation Serif", "DejaVu Serif", serif' font-weight="bold" font-size="41.47" text-anchor="start" >-0.01</text>
<text transform="translate(802.99 1057.57) scale(0.8604 1)" font-family='"Liberation Serif", "DejaVu Serif", serif' font-weight="bold" font-size="41.47" text-anchor="start" >0.00</text>
<text transform="translate(803.34 1002.02) scale(0.8604 1)" font-family='"Liberation Serif", "DejaVu Serif", serif' font-weight="bold" font-size="41.47" text-anchor="start" >0.01</text>
<text transform="translate(802.99 946.47) scale(0.8604 1)" font-family='"Liberation Serif", "DejaVu Serif", serif' font-weight="bold" font-size="41.47" text-anchor="start" >0.02</text>
<text transform="translate(802.63 890.92) scale(0.8604 1)" font-family='"Liberation Serif", "DejaVu Serif", serif' font-weight="bold" font-size="41.47" text-anchor="start" >0.03</text>
<text transform="translate(802.27 835.37) scale(0.8604 1)" font-family='"Liberation Serif", "DejaVu Serif", serif' font-weight="bold" font-size="41.47" text-anchor="start" >0.04</text>
<text transform="translate(872.28 1343) scale(0.8604 1)" font-family='"Liberation Serif", "DejaVu Serif", serif' font-weight="bold" font-size="41.47" text-anchor="start" >0</text>
<text transform="translate(918.34 1343) scale(0.8604 1)" font-family='"Liberation Serif", "DejaVu Serif", serif' font-weight="bold" font-size="41.47" text-anchor="start" >1</text>
<text transform="translate(965.48 1343) scale(0.8604 1)" font-family='"Liberation Serif", "DejaVu Serif", serif' font-weight="bold" font-size="41.47" text-anchor="start" >2</text>
<text transform="translate(1011.9 1343) scale(0.8604 1)" font-family='"Liberation Serif", "DejaVu Serif", serif' font-weight="bold" font-size="41.47" text-anchor="start" >3</text>
<text transform="translate(1058.86 1343) scale(0.8604 1)" font-family='"Liberation Serif", "DejaVu Serif", serif' font-weight="bold" font-size="41.47" text-anchor="start" >4</text>
<text transform="translate(1105.28 1343) scale(0.8604 1)" font-family='"Liberation Serif", "DejaVu Serif", serif' font-weight="bold" font-size="41.47" text-anchor="start" >5</text>
<text transform="translate(1151.88 1343) scale(0.8604 1)" font-family='"Liberation Serif", "DejaVu Serif", serif' font-weight="bold" font-size="41.47" text-anchor="start" >6</text>
<text transform="translate(1197.77 1343) scale(0.8604 1)" font-family='"Liberation Serif", "DejaVu Serif", serif' font-weight="bold" font-size="41.47" text-anchor="start" >7</text>
<text transform="translate(1245.08 1343) scale(0.8604 1)" font-family='"Liberation Serif", "DejaVu Serif", serif' font-weight="bold" font-size="41.47" text-anchor="start" >8</text>
<text transform="translate(1291.86 1343) scale(0.8604 1)" font-family='"Liberation Serif", "DejaVu Serif", serif' font-weight="bold" font-size="41.47" text-anchor="start" >9</text>
<text transform="translate(1328.65 1343) scale(0.8604 1)" font-family='"Liberation Serif", "DejaVu Serif", serif' font-weight="bold" font-size="41.47" text-anchor="start" >10</text>
<text transform="translate(1375.42 1343) scale(0.8604 1)" font-family='"Liberation Serif", "DejaVu Serif", serif' font-weight="bold" font-size="41.47" text-anchor="start" >11</text>
<text transform="translate(963.68 1395.6) scale(0.8969 1)" font-family='"Liberation Serif", "DejaVu Serif", serif' font-weight="bold" font-size="54.05" text-anchor="start" >Scan rate (mV/s)</text>
<text transform="translate(769 1152.62) rotate(-90) scale(0.9595 1)" font-family='"Liberation Serif", "DejaVu Serif", serif' font-weight="bold" font-size="56.37" text-anchor="start" >Ic (mA)</text>
<text transform="translate(912.69 871.8) scale(0.9861 1)" font-family='"Liberation Serif", "DejaVu Serif", serif' font-weight="bold" font-size="56.14" text-anchor="start" >2D V<tspan font-size="60%" dy="0.66em">2</tspan><tspan dy="-0.396em">O</tspan><tspan font-size="60%" dy="0.66em">5</tspan></text>
<text transform="translate(1063.44 1012) scale(0.9944 1)" font-family='"Liberation Serif", "DejaVu Serif", serif' font-weight="bold" font-size="37.5" text-anchor="start" >C<tspan font-size="60%" dy="0.67em">dl</tspan><tspan dy="-0.402em">= 3.32 mF</tspan></text>
<text transform="translate(1063.35 1076.5) scale(0.9638 1)" font-family='"Liberation Serif", "DejaVu Serif", serif' font-weight="bold" font-size="37.5" text-anchor="start" >(for 45 μg of sample)</text>
<text transform="translate(745.43 837.6) scale(1.0722 1)" font-family='"Liberation Sans", "DejaVu Sans", sans-serif' font-weight="normal" font-size="69.22" text-anchor="start" >d</text>
<defs><linearGradient id="gp" x1="0" y1="0" x2="0" y2="1"><stop offset="0" stop-color="#840084"/><stop offset="0.25" stop-color="#760076"/><stop offset="0.5" stop-color="#560356"/><stop offset="0.75" stop-color="#2d032d"/><stop offset="1" stop-color="#0a020a"/></linearGradient><linearGradient id="gg" x1="0" y1="0" x2="0" y2="1"><stop offset="0" stop-color="#008400"/><stop offset="1" stop-color="#004a00"/></linearGradient></defs>
<rect x="1624.2" y="825.44" width="90.1" height="492.56" fill="url(#gp)" stroke="#1a001a" stroke-width="1"/>
<rect x="1847.2" y="1303.1" width="89.6" height="14.9" fill="url(#gg)" stroke="#002a00" stroke-width="1"/>
<rect x="1558.4" y="788.2" width="444.8" height="529.8" fill="none" stroke="#000" stroke-width="3.3"/>
<line x1="1558.4" y1="1318" x2="1550" y2="1318" stroke="#000" stroke-width="3" stroke-linecap="round"/>
<line x1="1558.4" y1="1271.4" x2="1550" y2="1271.4" stroke="#000" stroke-width="3" stroke-linecap="round"/>
<line x1="1558.4" y1="1224.8" x2="1550" y2="1224.8" stroke="#000" stroke-width="3" stroke-linecap="round"/>
<line x1="1558.4" y1="1178.2" x2="1550" y2="1178.2" stroke="#000" stroke-width="3" stroke-linecap="round"/>
<line x1="1558.4" y1="1131.6" x2="1550" y2="1131.6" stroke="#000" stroke-width="3" stroke-linecap="round"/>
<line x1="1558.4" y1="1085" x2="1550" y2="1085" stroke="#000" stroke-width="3" stroke-linecap="round"/>
<line x1="1558.4" y1="1038.4" x2="1550" y2="1038.4" stroke="#000" stroke-width="3" stroke-linecap="round"/>
<line x1="1558.4" y1="991.8" x2="1550" y2="991.8" stroke="#000" stroke-width="3" stroke-linecap="round"/>
<line x1="1558.4" y1="945.2" x2="1550" y2="945.2" stroke="#000" stroke-width="3" stroke-linecap="round"/>
<line x1="1558.4" y1="898.6" x2="1550" y2="898.6" stroke="#000" stroke-width="3" stroke-linecap="round"/>
<line x1="1558.4" y1="852" x2="1550" y2="852" stroke="#000" stroke-width="3" stroke-linecap="round"/>
<line x1="1558.4" y1="805.4" x2="1550" y2="805.4" stroke="#000" stroke-width="3" stroke-linecap="round"/>
<line x1="1558.4" y1="1294.7" x2="1554" y2="1294.7" stroke="#000" stroke-width="3" stroke-linecap="round"/>
<line x1="1558.4" y1="1248.1" x2="1554" y2="1248.1" stroke="#000" stroke-width="3" stroke-linecap="round"/>
<line x1="1558.4" y1="1201.5" x2="1554" y2="1201.5" stroke="#000" stroke-width="3" stroke-linecap="round"/>
<line x1="1558.4" y1="1154.9" x2="1554" y2="1154.9" stroke="#000" stroke-width="3" stroke-linecap="round"/>
<line x1="1558.4" y1="1108.3" x2="1554" y2="1108.3" stroke="#000" stroke-width="3" stroke-linecap="round"/>
<line x1="1558.4" y1="1061.7" x2="1554" y2="1061.7" stroke="#000" stroke-width="3" stroke-linecap="round"/>
<line x1="1558.4" y1="1015.1" x2="1554" y2="1015.1" stroke="#000" stroke-width="3" stroke-linecap="round"/>
<line x1="1558.4" y1="968.5" x2="1554" y2="968.5" stroke="#000" stroke-width="3" stroke-linecap="round"/>
<line x1="1558.4" y1="921.9" x2="1554" y2="921.9" stroke="#000" stroke-width="3" stroke-linecap="round"/>
<line x1="1558.4" y1="875.3" x2="1554" y2="875.3" stroke="#000" stroke-width="3" stroke-linecap="round"/>
<line x1="1558.4" y1="828.7" x2="1554" y2="828.7" stroke="#000" stroke-width="3" stroke-linecap="round"/>
<line x1="1558.4" y1="1318" x2="1558.4" y2="1322" stroke="#000" stroke-width="3" stroke-linecap="round"/>
<line x1="1669" y1="1318" x2="1669" y2="1322.5" stroke="#000" stroke-width="3" stroke-linecap="round"/>
<line x1="1780.5" y1="1318" x2="1780.5" y2="1322" stroke="#000" stroke-width="3" stroke-linecap="round"/>
<line x1="1892" y1="1318" x2="1892" y2="1325" stroke="#000" stroke-width="3" stroke-linecap="round"/>
<line x1="2003.2" y1="1318" x2="2003.2" y2="1322" stroke="#000" stroke-width="3" stroke-linecap="round"/>
<text transform="translate(1527.18 1327.23) scale(0.9935 1)" font-family='"Liberation Serif", "DejaVu Serif", serif' font-weight="bold" font-size="33.53" text-anchor="start" >0</text>
<text transform="translate(1510.52 1280.63) scale(0.9935 1)" font-family='"Liberation Serif", "DejaVu Serif", serif' font-weight="bold" font-size="33.53" text-anchor="start" >20</text>
<text transform="translate(1510.52 1234.03) scale(0.9935 1)" font-family='"Liberation Serif", "DejaVu Serif", serif' font-weight="bold" font-size="33.53" text-anchor="start" >40</text>
<text transform="translate(1510.52 1187.43) scale(0.9935 1)" font-family='"Liberation Serif", "DejaVu Serif", serif' font-weight="bold" font-size="33.53" text-anchor="start" >60</text>
<text transform="translate(1510.52 1140.83) scale(0.9935 1)" font-family='"Liberation Serif", "DejaVu Serif", serif' font-weight="bold" font-size="33.53" text-anchor="start" >80</text>
<text transform="translate(1493.87 1094.23) scale(0.9935 1)" font-family='"Liberation Serif", "DejaVu Serif", serif' font-weight="bold" font-size="33.53" text-anchor="start" >100</text>
<text transform="translate(1493.87 1047.63) scale(0.9935 1)" font-family='"Liberation Serif", "DejaVu Serif", serif' font-weight="bold" font-size="33.53" text-anchor="start" >120</text>
<text transform="translate(1493.87 1001.03) scale(0.9935 1)" font-family='"Liberation Serif", "DejaVu Serif", serif' font-weight="bold" font-size="33.53" text-anchor="start" >140</text>
<text transform="translate(1493.87 954.43) scale(0.9935 1)" font-family='"Liberation Serif", "DejaVu Serif", serif' font-weight="bold" font-size="33.53" text-anchor="start" >160</text>
<text transform="translate(1493.87 907.83) scale(0.9935 1)" font-family='"Liberation Serif", "DejaVu Serif", serif' font-weight="bold" font-size="33.53" text-anchor="start" >180</text>
<text transform="translate(1493.87 861.23) scale(0.9935 1)" font-family='"Liberation Serif", "DejaVu Serif", serif' font-weight="bold" font-size="33.53" text-anchor="start" >200</text>
<text transform="translate(1493.87 814.63) scale(0.9935 1)" font-family='"Liberation Serif", "DejaVu Serif", serif' font-weight="bold" font-size="33.53" text-anchor="start" >220</text>
<text transform="translate(1612.53 1364.3) scale(1.0615 1)" font-family='"Liberation Serif", "DejaVu Serif", serif' font-weight="bold" font-size="34.69" text-anchor="start" >2D V<tspan font-size="62%" dy="0.69em">2</tspan><tspan dy="-0.428em">O</tspan><tspan font-size="62%" dy="0.69em">5</tspan></text>
<text transform="translate(1858.36 1356.3) scale(0.9184 1)" font-family='"Liberation Serif", "DejaVu Serif", serif' font-weight="bold" font-size="34.69" text-anchor="start" >Bulk</text>
<text transform="translate(1709.53 1422.1) scale(1.0512 1)" font-family='"Liberation Serif", "DejaVu Serif", serif' font-weight="bold" font-size="48.92" text-anchor="start" >Sample</text>
<text transform="translate(1472.7 1217.17) rotate(-90) scale(0.9133 1)" font-family='"Liberation Serif", "DejaVu Serif", serif' font-weight="bold" font-size="47.62" text-anchor="start" >Sp. ECSA (m<tspan font-size="60%" dy="-0.86em">2</tspan><tspan dy="0.516em">/g)</tspan></text>
<text transform="translate(1417.34 848) scale(1.0817 1)" font-family='"Liberation Sans", "DejaVu Sans", sans-serif' font-weight="normal" font-size="70.61" text-anchor="start" >e</text>
</svg>
</body></html>
